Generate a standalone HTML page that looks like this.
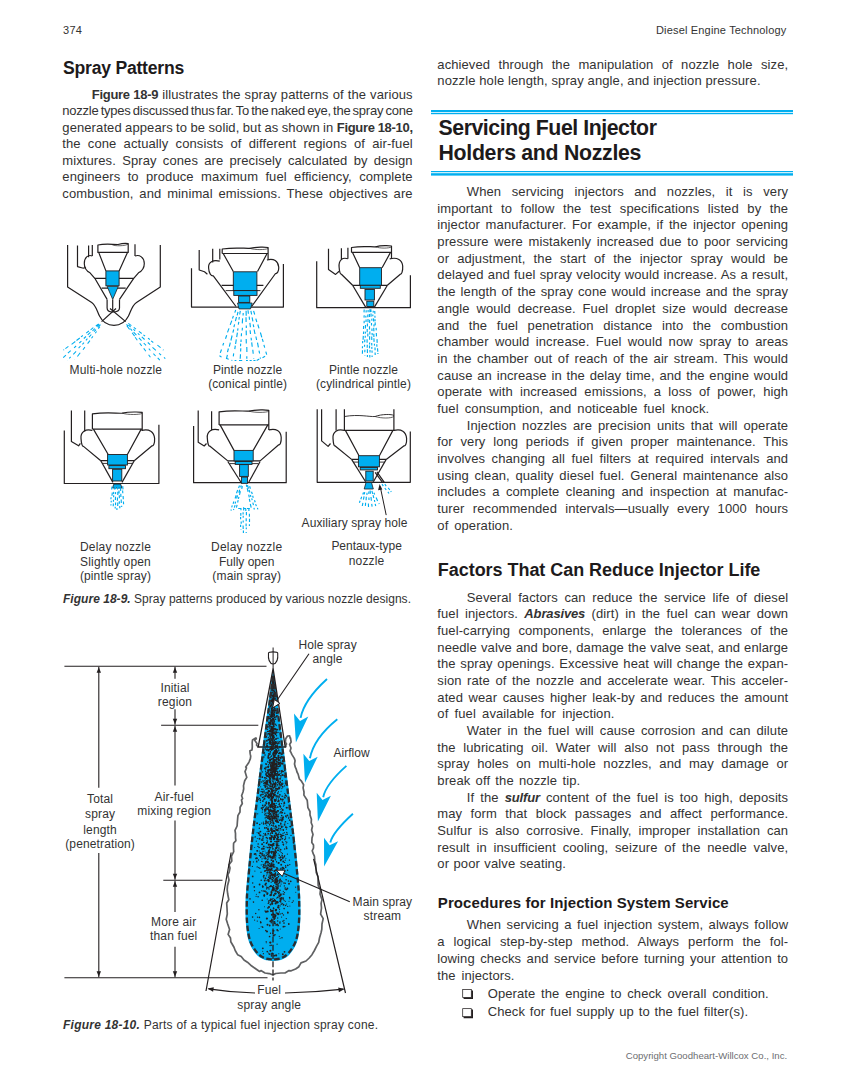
<!DOCTYPE html>
<html><head><meta charset="utf-8"><style>
html,body{margin:0;padding:0;background:#fff;}
body{width:849px;height:1087px;position:relative;overflow:hidden;}
.t{position:absolute;white-space:pre;}
svg{position:absolute;left:0;top:0;}
</style></head><body>
<svg width="849" height="1087" viewBox="0 0 849 1087">
<rect x="431" y="110" width="362" height="2.2" fill="#00aeef"/>
<rect x="431" y="113" width="362" height="1.2" fill="#00aeef"/>
<rect x="431" y="171" width="362" height="1.2" fill="#00aeef"/>
<rect x="431" y="173.2" width="362" height="2.4" fill="#00aeef"/>
<path d="M67.6,245 V287 L91.7,302.5 C96,305.5 97,311 99.5,316 C103,323 108,325.3 114,325.3 C120,325.3 125,323 128.5,316 C131,311 132,305.5 136.5,302.5 L160.3,287 V245" stroke="#231f20" stroke-width="1.2" fill="none" stroke-linejoin="round" /><path d="M77.5,245.6 V266.6 L81.5,267.8 C83.5,268.6 85,268 85.8,267" stroke="#231f20" stroke-width="1.2" fill="none" stroke-linejoin="round" /><path d="M88.6,245.6 V257.3 M92.3,245 V256 M135,244.3 V256" stroke="#231f20" stroke-width="1.2" fill="none" stroke-linejoin="round" /><path d="M97.9,252.4 V245 C105,243.5 112,244.5 118,244.5 C122,243.5 126,243.3 128.2,243.7 V252.4 Z" stroke="#231f20" stroke-width="1.2" fill="none" stroke-linejoin="round" /><path d="M112,244.5 C114,246.5 126,246 128.2,244" stroke="#231f20" stroke-width="0.7" fill="none" stroke-linejoin="round" /><path d="M92.3,256 C88,254.3 84.3,257.5 84.3,263.5 C84.3,268.5 87.5,271.5 90,272.8 L94.8,278.3 L107.1,299.4" stroke="#231f20" stroke-width="1.2" fill="none" stroke-linejoin="round" /><path d="M135,256 C139.5,254.3 144.3,257.5 144.3,263.5 C144.3,268.5 141,271.5 138.5,272.8 L133.7,278.3 L119.5,299.4" stroke="#231f20" stroke-width="1.2" fill="none" stroke-linejoin="round" /><path d="M98.7,252.4 L105.9,270.9 M127.5,252.4 L119.1,270.9" stroke="#231f20" stroke-width="1.2" fill="none" stroke-linejoin="round" /><path d="M94.8,278.3 H133.7 M101.6,288.2 H125.7" stroke="#231f20" stroke-width="1.2" fill="none" stroke-linejoin="round" /><rect x="105.9" y="270.9" width="13.2" height="14.9" rx="0" fill="#00aeef" stroke="#231f20" stroke-width="0.9"/><path d="M107.1,286.4 L118.3,286.4 L112.7,299.4 Z" fill="#00aeef" stroke="#231f20" stroke-width="0.8"/><path d="M107.1,299.4 V308 C107.1,311 109.5,312 112.7,312 C116,312 119.5,311 119.5,308 V299.4 M112.7,299.4 V311" stroke="#231f20" stroke-width="1.2" fill="none" stroke-linejoin="round" /><path d="M101.6,321.6 L116,308.5 M125.7,321.6 L110,308.5" stroke="#231f20" stroke-width="1.2" fill="none" stroke-linejoin="round" /><path d="M191.5,268.3 V307.1 H283.4 V264.1" stroke="#231f20" stroke-width="1.2" fill="none" stroke-linejoin="round" /><path d="M199.2,250 V270 L204.5,271.8 L207.4,274.2" stroke="#231f20" stroke-width="1.2" fill="none" stroke-linejoin="round" /><path d="M212.7,248.8 V262.4" stroke="#231f20" stroke-width="1.2" fill="none" stroke-linejoin="round" /><path d="M219.8,248.8 V259.4" stroke="#231f20" stroke-width="1.2" fill="none" stroke-linejoin="round" /><path d="M222.2,253.5 V249.0 C235.97,247.0 245.15,248.7 249.74,248.3 C256.625,246.7 266.1,247.0 268.1,247.5 V259.4 M222.2,253.5 H268.1" stroke="#231f20" stroke-width="1.2" fill="none" stroke-linejoin="round" /><path d="M249.74,248.3 C255.24800000000002,250.1 265.1,249.9 268.1,248.5" stroke="#231f20" stroke-width="0.7" fill="none" stroke-linejoin="round" /><path d="M223.2,253.5 L233.3,271.5 M267.1,253.5 L257.5,271.5" stroke="#231f20" stroke-width="1.2" fill="none" stroke-linejoin="round" /><path d="M219.8,261.2 C213.1,259.4 208.0,262.2 208.6,268 C208.9,273.5 211.2,276.2 213.3,275.9 L236,306.5" stroke="#231f20" stroke-width="1.2" fill="none" stroke-linejoin="round" /><path d="M266.9,260 C274.0,258.2 278.1,261.1 278.7,267 C279.0,271.6 276.9,273.8 275.5,273.5 L251.6,306.5" stroke="#231f20" stroke-width="1.2" fill="none" stroke-linejoin="round" /><path d="M221.6,285.3 H263.4" stroke="#231f20" stroke-width="1.2" fill="none" stroke-linejoin="round" /><path d="M225.7,290.6 H260.4" stroke="#231f20" stroke-width="0.9" fill="none" stroke-linejoin="round" /><rect x="233.3" y="271.8" width="23.6" height="18.8" rx="0" fill="#00aeef" stroke="#231f20" stroke-width="0.9"/><rect x="233.8" y="290.6" width="23.2" height="4.8" rx="0" fill="#00aeef" stroke="#231f20" stroke-width="0.9"/><rect x="238.6" y="296.0" width="11.2" height="6.4" rx="0" fill="#00aeef" stroke="#231f20" stroke-width="0.9"/><polygon points="237.5,303 252.2,303 250.5,308.9 239,308.9" fill="#00aeef" stroke="#231f20" stroke-width="0.8"/><path d="M316.7,261.2 V307.7 H410.4 V275.3" stroke="#231f20" stroke-width="1.2" fill="none" stroke-linejoin="round" /><path d="M328.5,248.8 V269.4 L335.6,274.4 L339.1,271.2" stroke="#231f20" stroke-width="1.2" fill="none" stroke-linejoin="round" /><path d="M341.4,248.2 V259.4" stroke="#231f20" stroke-width="1.2" fill="none" stroke-linejoin="round" /><path d="M347.9,247.7 V258.8" stroke="#231f20" stroke-width="1.2" fill="none" stroke-linejoin="round" /><path d="M351.5,252.4 V247.5 C363.5,245.5 371.5,247.2 375.5,246.8 C381.5,245.2 389.5,245.5 391.5,246 V258.8 M351.5,252.4 H391.5" stroke="#231f20" stroke-width="1.2" fill="none" stroke-linejoin="round" /><path d="M375.5,246.8 C380.3,248.6 388.5,248.4 391.5,247" stroke="#231f20" stroke-width="0.7" fill="none" stroke-linejoin="round" /><path d="M352.5,252.4 L359.7,267.7 M390.5,252.4 L382.1,267.7" stroke="#231f20" stroke-width="1.2" fill="none" stroke-linejoin="round" /><path d="M347.9,258.8 C342.6,257.0 338.5,260.0 339.1,267 C339.4,272.0 340.4,274.5 341.4,274.2 L352.6,285.3" stroke="#231f20" stroke-width="1.2" fill="none" stroke-linejoin="round" /><path d="M389.7,258.8 C397.5,257.0 402.1,259.9 402.7,266 C403.0,271.7 401.4,274.5 400.3,274.2 L387.4,285.3" stroke="#231f20" stroke-width="1.2" fill="none" stroke-linejoin="round" /><path d="M352.6,285.3 H387.4" stroke="#231f20" stroke-width="1.2" fill="none" stroke-linejoin="round" /><path d="M352.6,285.3 L365.6,307.1" stroke="#231f20" stroke-width="1.2" fill="none" stroke-linejoin="round" /><path d="M387.4,285.3 L374.4,307.1" stroke="#231f20" stroke-width="1.2" fill="none" stroke-linejoin="round" /><rect x="359.7" y="267.7" width="21.8" height="17.6" rx="0" fill="#00aeef" stroke="#231f20" stroke-width="0.9"/><rect x="360.3" y="285.3" width="20.0" height="3.0" rx="0" fill="#00aeef" stroke="#231f20" stroke-width="0.9"/><rect x="365.0" y="289.5" width="9.4" height="10.5" rx="0" fill="#00aeef" stroke="#231f20" stroke-width="0.9"/><rect x="366.8" y="301.2" width="7.0" height="5.3" rx="0" fill="#00aeef" stroke="#231f20" stroke-width="0.9"/><path d="M64.3,430.4 V483.5 H158.9 V424.8" stroke="#231f20" stroke-width="1.2" fill="none" stroke-linejoin="round" /><path d="M71.4,410.6 V441.5 L78.6,445.8 L80.4,443.3" stroke="#231f20" stroke-width="1.2" fill="none" stroke-linejoin="round" /><path d="M84.7,410.6 V431.6" stroke="#231f20" stroke-width="1.2" fill="none" stroke-linejoin="round" /><path d="M92.4,429.1 V413.9 C107.34,411.9 117.3,413.59999999999997 122.28,413.2 C129.75,411.59999999999997 140.2,411.9 142.2,412.4 V431 M92.4,429.1 H142.2" stroke="#231f20" stroke-width="1.2" fill="none" stroke-linejoin="round" /><path d="M122.28,413.2 C128.256,415.0 139.2,414.79999999999995 142.2,413.4" stroke="#231f20" stroke-width="0.7" fill="none" stroke-linejoin="round" /><path d="M93.4,429.1 L108.2,454.5 M141.2,429.1 L127.4,454.5" stroke="#231f20" stroke-width="1.2" fill="none" stroke-linejoin="round" /><path d="M92.4,430.4 C85.6,428.6 80.4,431.6 81,438.4 C81.3,444.0 82.4,446.7 83.5,446.4 L100.8,460.7" stroke="#231f20" stroke-width="1.2" fill="none" stroke-linejoin="round" /><path d="M141.6,430.4 C149.4,428.6 154.0,431.6 154.6,438.4 C154.9,443.6 153.2,446.1 152.1,445.8 L134.2,460.7" stroke="#231f20" stroke-width="1.2" fill="none" stroke-linejoin="round" /><path d="M100.8,460.7 H134.2" stroke="#231f20" stroke-width="1.2" fill="none" stroke-linejoin="round" /><path d="M102.3,463.4 H132.7" stroke="#231f20" stroke-width="0.9" fill="none" stroke-linejoin="round" /><path d="M100.8,460.7 L112.9,482.4" stroke="#231f20" stroke-width="1.2" fill="none" stroke-linejoin="round" /><path d="M134.2,460.7 L122,482.4" stroke="#231f20" stroke-width="1.2" fill="none" stroke-linejoin="round" /><rect x="107.6" y="454.5" width="19.8" height="10.5" rx="0" fill="#00aeef" stroke="#231f20" stroke-width="0.9"/><rect x="108.9" y="465.6" width="16.6" height="3.1" rx="0" fill="#00aeef" stroke="#231f20" stroke-width="0.9"/><rect x="112.6" y="469.3" width="9.2" height="11.7" rx="0" fill="#00aeef" stroke="#231f20" stroke-width="0.9"/><polygon points="113.8,484.1 120.6,484.1 122,488 112.5,488" fill="#00aeef" stroke="#231f20" stroke-width="0.8"/><path d="M193.6,426.1 V482.7 H286.2 V431.7" stroke="#231f20" stroke-width="1.2" fill="none" stroke-linejoin="round" /><path d="M198.2,410.6 V442.3 L204.2,446 L206.5,443.5" stroke="#231f20" stroke-width="1.2" fill="none" stroke-linejoin="round" /><path d="M211.6,411.2 V429.9" stroke="#231f20" stroke-width="1.2" fill="none" stroke-linejoin="round" /><path d="M219.1,424.9 V411.8 C234.01,409.8 243.95,411.5 248.92000000000002,411.1 C256.375,409.5 266.8,409.8 268.8,410.3 V429.9 M219.1,424.9 H268.8" stroke="#231f20" stroke-width="1.2" fill="none" stroke-linejoin="round" /><path d="M248.92000000000002,411.1 C254.88400000000001,412.90000000000003 265.8,412.7 268.8,411.3" stroke="#231f20" stroke-width="0.7" fill="none" stroke-linejoin="round" /><path d="M220.1,424.9 L234,450.4 M267.8,424.9 L253.2,450.4" stroke="#231f20" stroke-width="1.2" fill="none" stroke-linejoin="round" /><path d="M219.1,429.9 C212.0,428.1 206.7,431.1 207.3,437.9 C207.6,443.6 208.6,446.3 209.7,446 L227.8,460.9" stroke="#231f20" stroke-width="1.2" fill="none" stroke-linejoin="round" /><path d="M268.8,429.9 C276.2,428.1 280.6,431.0 281.2,437.3 C281.5,442.6 279.8,445.1 278.7,444.8 L260.1,460.9" stroke="#231f20" stroke-width="1.2" fill="none" stroke-linejoin="round" /><path d="M227.8,460.9 H260.1" stroke="#231f20" stroke-width="1.2" fill="none" stroke-linejoin="round" /><path d="M229.4,463.6 H258.5" stroke="#231f20" stroke-width="0.9" fill="none" stroke-linejoin="round" /><path d="M227.8,461.5 L240.8,482" stroke="#231f20" stroke-width="1.2" fill="none" stroke-linejoin="round" /><path d="M260.1,461.5 L248.9,482" stroke="#231f20" stroke-width="1.2" fill="none" stroke-linejoin="round" /><rect x="234.0" y="450.4" width="19.2" height="10.5" rx="0" fill="#00aeef" stroke="#231f20" stroke-width="0.9"/><rect x="235.2" y="461.5" width="16.8" height="2.9" rx="0" fill="#00aeef" stroke="#231f20" stroke-width="0.9"/><rect x="239.6" y="464.6" width="8.7" height="11.8" rx="0" fill="#00aeef" stroke="#231f20" stroke-width="0.9"/><rect x="241.4" y="477.1" width="6.2" height="6.2" rx="0" fill="#00aeef" stroke="#231f20" stroke-width="0.9"/><path d="M317.2,409.3 V482.3 H410.3 V431.6" stroke="#231f20" stroke-width="1.2" fill="none" stroke-linejoin="round" /><path d="M321.6,409.3 V440.9 L328.1,446.4 L330.5,443.5" stroke="#231f20" stroke-width="1.2" fill="none" stroke-linejoin="round" /><path d="M336.1,409.3 V430.4" stroke="#231f20" stroke-width="1.2" fill="none" stroke-linejoin="round" /><path d="M344.4,409.3 V430.4 H393.9 M393.9,409.3 V431" stroke="#231f20" stroke-width="1.2" fill="none" stroke-linejoin="round" /><path d="M344.4,416.5 C359.25,414.0 369.15,417.0 375.09,416.5 C381.525,414.0 391.9,414.0 393.9,415.5" stroke="#231f20" stroke-width="0.9" fill="none" stroke-linejoin="round" /><path d="M375.09,416.5 C381.525,418.5 390.9,418.5 393.9,416.5" stroke="#231f20" stroke-width="0.7" fill="none" stroke-linejoin="round" /><path d="M345.4,430.4 L359,455.7 M392.9,430.4 L379.4,455.7" stroke="#231f20" stroke-width="1.2" fill="none" stroke-linejoin="round" /><path d="M344.4,430.4 C337.6,428.6 332.4,431.6 333,438.4 C333.3,443.6 334.0,446.1 334.9,445.8 L351.6,459.4" stroke="#231f20" stroke-width="1.2" fill="none" stroke-linejoin="round" /><path d="M393.9,430.4 C401.5,428.6 406.0,431.6 406.6,438.4 C406.9,443.6 405.2,446.1 404.1,445.8 L386.2,459.4" stroke="#231f20" stroke-width="1.2" fill="none" stroke-linejoin="round" /><path d="M351.6,459.4 H386.2" stroke="#231f20" stroke-width="1.2" fill="none" stroke-linejoin="round" /><path d="M353.2,462.1 H384.6" stroke="#231f20" stroke-width="0.9" fill="none" stroke-linejoin="round" /><path d="M351.6,459.4 L365.6,481.7" stroke="#231f20" stroke-width="1.2" fill="none" stroke-linejoin="round" /><path d="M386.2,459.4 L373.4,481.7" stroke="#231f20" stroke-width="1.2" fill="none" stroke-linejoin="round" /><path d="M375.1,472.4 L382.5,482.3" stroke="#231f20" stroke-width="1.2" fill="none" stroke-linejoin="round" /><path d="M376.9,471.8 L384.3,482.3" stroke="#231f20" stroke-width="1.2" fill="none" stroke-linejoin="round" /><rect x="358.4" y="455.7" width="21.0" height="11.1" rx="0" fill="#00aeef" stroke="#231f20" stroke-width="0.9"/><rect x="360.2" y="467.5" width="17.3" height="2.4" rx="0" fill="#00aeef" stroke="#231f20" stroke-width="0.9"/><rect x="365.8" y="471.2" width="7.4" height="9.8" rx="0" fill="#00aeef" stroke="#231f20" stroke-width="0.9"/><polygon points="366,482.5 371.5,482.5 373.3,489 364.2,489" fill="#00aeef" stroke="#231f20" stroke-width="0.8"/><path d="M98.7,323.8L95.8,326.0M93.3,327.7L90.6,329.8M88.9,331.0L86.2,333.1M82.9,335.5L81.0,336.9M79.8,338.0L76.5,340.5M75.3,341.5L71.6,344.3M68.4,346.4L65.4,348.6M64.1,349.6L63.4,350.1M99.3,324.4L96.8,326.7M94.9,328.6L92.5,330.8M90.4,332.3L87.7,334.9M86.0,336.5L83.8,338.5M81.4,341.1L79.3,343.0M76.1,346.0L74.1,347.9M70.7,350.6L67.9,353.2M65.9,355.1L63.2,357.7M100.5,324.6L97.9,327.5M96.0,329.7L94.1,331.7M91.3,334.5L89.0,337.1M87.4,338.7L85.9,340.3M84.0,342.7L82.4,344.4M80.5,346.0L78.6,348.1M76.1,351.4L73.3,354.3M70.7,356.8L69.2,358.4M67.6,360.6L67.5,360.7M99.9,326.7L98.3,328.8M96.6,331.5L95.2,333.3M92.9,336.4L91.5,338.2M89.9,340.6L87.6,343.6M84.9,347.1L83.0,349.7M80.2,352.8L77.4,356.5M74.9,359.9L74.8,360.0" stroke="#00aeef" stroke-width="1.05" fill="none"/><path d="M128.3,323.3L131.4,325.7M133.8,327.4L136.0,329.1M138.9,331.4L141.7,333.5M143.4,334.8L145.1,336.2M148.0,338.1L149.8,339.5M151.1,340.9L153.3,342.5M157.4,345.2L160.6,347.7M162.9,349.7L163.5,350.1M128.6,325.2L130.6,327.0M133.4,329.2L135.1,330.8M137.8,333.4L139.5,334.9M141.8,336.9L144.6,339.5M147.8,342.5L150.2,344.7M152.5,347.3L155.9,350.4M159.1,353.3L161.1,355.2M164.0,357.4L165.3,358.6M126.5,324.3L128.2,326.1M130.4,328.7L132.1,330.6M133.6,332.2L136.4,335.2M138.9,337.9L141.5,340.7M143.7,343.0L146.0,345.4M148.8,348.7L150.4,350.5M153.4,353.7L155.6,356.0M157.7,357.8L159.8,360.1M126.8,325.7L129.6,329.4M132.1,332.8L134.6,336.1M135.1,337.3L137.3,340.3M139.7,343.3L141.7,345.9M143.7,348.4L145.9,351.2M148.6,354.8L150.4,357.2" stroke="#00aeef" stroke-width="1.05" fill="none"/><path d="M235.7,310.0L234.8,312.6M233.4,315.9L232.5,318.5M231.8,320.6L230.2,324.9M229.0,328.4L227.5,332.4M226.7,335.3L225.5,338.7M223.7,343.0L222.8,345.5M221.5,349.5L220.3,352.9M220.0,355.2L219.9,355.7M238.0,311.8L237.2,315.3M236.5,317.0L235.4,321.2M234.6,324.4L233.9,327.2M233.7,329.5L232.9,332.7M232.1,335.5L230.9,340.5M230.3,342.6L229.3,346.6M228.4,348.5L227.5,352.2M227.4,354.8L226.5,358.6M240.3,310.8L239.7,314.5M239.3,317.0L238.9,319.6M238.8,321.9L238.3,324.6M238.0,328.3L237.6,330.7M237.4,332.6L236.7,337.2M236.3,339.3L235.6,344.0M235.3,345.7L234.8,349.2M233.7,353.4L233.3,356.3M243.2,312.9L243.1,315.5M242.6,318.4L242.3,323.4M242.4,327.7L242.2,330.5M241.5,333.3L241.3,336.2M241.1,339.6L241.0,342.0M240.7,343.6L240.5,346.2M240.8,348.3L240.6,351.5M240.5,354.2L240.2,358.7M246.1,310.7L246.2,315.7M246.0,317.3L246.1,322.0M246.3,325.6L246.3,328.0M246.2,330.6L246.3,335.3M246.2,339.1L246.3,343.5M246.8,347.0L246.9,352.1M246.8,356.3L246.8,358.7M248.0,310.2L248.4,313.8M249.2,316.6L249.5,319.7M249.9,322.9L250.4,327.3M250.1,330.3L250.5,334.0M251.1,337.8L251.4,340.4M251.7,342.4L252.2,346.8M252.8,349.8L253.2,353.7M253.7,358.1L253.8,358.7M250.9,310.8L251.6,314.5M252.1,317.4L252.9,321.3M253.2,324.3L253.8,327.2M254.1,329.5L255.0,334.0M255.9,336.5L256.6,340.0M257.5,342.7L258.4,347.4M259.0,350.6L259.6,353.5M260.3,357.5L260.5,358.7M253.6,310.8L254.7,314.5M255.8,318.7L256.8,322.0M257.8,324.5L259.0,328.3M260.4,332.5L261.8,337.3M262.3,338.9L263.2,341.8M263.9,344.9L264.7,347.6M265.8,351.7L266.7,354.6" stroke="#00aeef" stroke-width="1.15" fill="none" stroke-linecap="butt"/><path d="M219.6,356.3L221.6,357.0M226.0,358.3L228.7,359.3M231.5,360.2L232.3,360.5M234.6,360.5L236.4,360.5M239.0,360.5L242.2,360.5M246.0,360.5L247.9,360.5M249.6,360.5L251.7,360.5M253.4,360.5L255.5,360.5M256.7,360.4L259.3,359.0M262.5,357.7L265.1,356.2" stroke="#00aeef" stroke-width="1.1" fill="none"/><path d="M364.2,309.5L364.0,312.4M364.2,315.3L364.0,317.6M364.2,320.7L364.1,323.3M363.6,326.0L363.5,329.0M363.6,331.4L363.5,333.9M363.3,335.9L363.1,339.8M362.7,340.9L362.6,343.3M362.5,346.2L362.4,348.3M362.5,350.2L362.4,353.7M366.2,310.3L366.1,312.5M365.9,315.7L365.8,317.6M366.1,319.4L366.0,321.9M365.5,325.1L365.4,328.6M365.4,331.6L365.3,333.6M365.3,335.7L365.2,337.7M364.8,339.6L364.7,342.2M364.6,344.8L364.5,346.8M364.9,349.8L364.8,352.3M364.9,355.0L364.9,355.5M368.1,309.9L368.1,312.3M367.8,314.4L367.8,317.3M368.0,319.1L368.0,322.3M367.4,323.5L367.4,326.5M367.2,329.1L367.2,332.2M367.8,333.5L367.8,336.4M367.1,339.3L367.1,342.8M367.3,344.7L367.2,347.7M367.4,349.3L367.4,353.0M367.4,355.0L367.4,357.0M369.9,309.2L369.9,312.2M369.4,314.1L369.5,317.0M369.6,319.7L369.7,323.0M369.5,326.2L369.5,329.5M369.8,331.4L369.8,334.6M369.6,336.2L369.6,339.7M369.6,342.5L369.6,344.4M369.5,345.6L369.5,348.3M370.0,350.1L370.0,352.4M369.8,354.9L369.8,357.4M370.9,309.3L371.0,311.9M371.0,313.5L371.1,316.7M371.8,318.6L371.9,320.8M371.5,323.0L371.5,325.5M371.9,328.4L372.0,331.0M372.1,332.9L372.2,335.2M371.7,336.4L371.8,340.1M371.7,342.9L371.8,345.6M371.8,346.9L371.9,348.9M372.0,350.4L372.1,352.7M372.1,355.4L372.1,357.0M373.2,310.7L373.3,312.6M372.8,314.4L372.8,316.2M373.5,318.4L373.7,321.5M373.9,324.4L374.0,326.5M373.7,327.8L373.9,331.3M373.8,333.7L373.9,337.0M373.9,338.3L374.1,341.9M374.4,343.7L374.5,345.6M375.0,347.4L375.1,350.2M375.1,352.4L375.2,355.1M374.7,311.0L374.9,313.8M374.9,315.7L375.0,317.7M375.0,319.2L375.1,321.3M375.1,322.4L375.3,325.4M376.1,327.9L376.3,330.4M376.3,333.0L376.5,336.4M377.0,339.1L377.2,342.9M376.8,344.3L376.9,346.8M377.5,348.3L377.8,351.7M377.9,353.0L377.9,354.0" stroke="#00aeef" stroke-width="1.15" fill="none" stroke-linecap="butt"/><path d="M112.0,486.6L111.7,489.5M112.3,492.5L112.0,495.8M111.1,497.3L110.9,499.3M111.3,500.7L111.1,502.4M111.0,504.2L110.9,505.5M114.4,487.6L114.3,489.5M113.7,491.9L113.6,494.1M113.7,495.2L113.6,497.2M113.5,499.7L113.4,501.7M113.4,503.5L113.2,506.2M115.5,486.4L115.4,489.3M115.6,492.1L115.5,494.1M115.5,496.7L115.4,500.1M115.6,502.5L115.5,505.2M115.2,506.7L115.2,508.5M117.5,486.8L117.5,489.6M117.8,491.8L117.8,495.1M117.5,497.4L117.4,500.7M117.8,502.6L117.7,505.9M117.0,508.1L116.9,510.0M118.9,486.8L119.0,488.9M119.0,490.4L119.1,493.5M119.3,495.3L119.4,498.3M119.3,501.2L119.4,503.8M119.8,506.1L119.8,508.2M120.5,487.4L120.7,490.9M120.8,493.7L120.9,497.0M121.2,499.6L121.3,502.9M121.6,505.8L121.7,507.0M122.7,486.1L123.0,489.4M122.6,490.5L122.8,493.2M123.1,496.0L123.3,499.3M123.4,501.5L123.6,504.2" stroke="#00aeef" stroke-width="1.15" fill="none" stroke-linecap="butt"/><path d="M239.5,485.5L238.6,488.1M237.7,490.0L236.5,493.3M236.2,495.3L235.1,498.5M233.9,501.5L233.1,503.7M232.3,505.4L231.7,507.4M231.3,509.5L231.0,510.6M241.2,485.3L240.6,487.4M239.7,489.8L238.8,492.6M237.6,495.4L236.6,498.5M235.7,501.7L235.1,503.7M235.1,505.1L234.3,507.6M233.8,509.0L233.5,510.0M242.4,486.1L241.7,488.9M240.4,491.1L239.5,494.8M238.9,496.9L238.4,498.9M238.2,500.2L237.6,502.5M237.1,504.8L236.4,507.6" stroke="#00aeef" stroke-width="1.15" fill="none" stroke-linecap="butt"/><path d="M246.3,484.7L246.8,486.8M247.2,488.2L248.1,491.9M248.7,494.6L249.3,497.3M249.3,498.9L250.0,501.8M250.3,504.0L251.2,507.7M247.5,485.2L248.5,488.6M249.1,489.8L249.9,492.5M250.4,495.0L250.9,496.9M251.7,498.3L252.2,500.1M252.8,502.7L253.5,505.2M253.9,507.9L254.4,509.5M249.6,486.3L250.4,488.7M251.5,491.7L252.3,494.0M252.6,495.7L253.3,497.7M254.5,500.3L255.2,502.3M255.6,504.1L256.4,506.1M257.4,507.9L257.9,509.4" stroke="#00aeef" stroke-width="1.15" fill="none" stroke-linecap="butt"/><path d="M240.9,508.2L241.0,510.2M240.8,513.1L240.8,515.7M240.6,517.1L240.6,519.2M241.2,521.6L241.2,523.7M240.6,524.8L240.6,526.9M241.0,529.4L241.0,530.0M243.6,507.3L243.7,510.5M243.1,512.3L243.1,514.5M243.2,515.7L243.2,517.8M243.2,520.5L243.2,522.6M243.1,525.4L243.2,528.9M243.4,530.5L243.4,533.0M245.8,508.8L245.8,510.9M246.4,512.1L246.4,515.2M246.2,518.2L246.2,521.2M246.1,523.6L246.1,526.2M246.3,527.5L246.3,529.3M246.2,531.9L246.2,533.0M248.9,508.0L248.9,510.9M249.4,513.7L249.4,516.8M249.5,518.8L249.5,522.1M249.4,524.3L249.4,526.1" stroke="#00aeef" stroke-width="1.15" fill="none" stroke-linecap="butt"/><path d="M238.2,508.5L241.2,508.5M243.9,508.5L246.1,508.5M247.0,508.5L249.7,508.5" stroke="#00aeef" stroke-width="1.1" fill="none"/><path d="M363.5,492.3L362.8,494.5M361.7,496.7L360.8,499.2M360.1,500.7L359.4,502.8M364.7,492.2L364.3,494.3M364.1,496.3L363.4,499.7M362.9,502.9L362.3,506.0M367.0,492.7L366.9,494.9M366.3,496.8L366.1,500.2M365.6,502.8L365.4,505.9M368.8,491.5L368.9,494.1M368.9,497.5L369.0,499.9M368.4,503.4L368.5,507.0M370.1,490.5L370.5,493.7M371.0,497.0L371.4,500.8M371.7,503.8L372.1,506.7M371.9,490.8L372.7,493.8M373.1,495.1L373.8,498.0M374.4,500.0L374.8,501.8M375.2,503.9L375.7,506.0M373.9,492.7L374.7,494.5M376.1,497.5L377.6,500.9M378.9,503.3L379.2,504.0" stroke="#00aeef" stroke-width="1.15" fill="none" stroke-linecap="butt"/><path d="M382.0,484.1L383.3,486.1M384.8,488.0L386.2,490.0M387.9,491.9L389.0,493.5M384.8,484.1L386.2,486.1M388.2,487.9L389.8,490.0M390.7,491.2L391.3,492.0" stroke="#00aeef" stroke-width="1.1" fill="none"/><path d="M386.2,515.1 L380.2,486.5" stroke="#231f20" stroke-width="1.0" fill="none" stroke-linejoin="round" /><path d="M379.6,484 L378.1,490.2 L382.3,489.4 Z" fill="#231f20"/>
<rect x="462.7" y="989.55" width="8.6" height="8.0" fill="none" stroke="#231f20" stroke-width="0.75"/><path d="M471.4,990.40 H473.0 V999.10 H463.6 V997.60 H471.4 Z" fill="#231f20"/><rect x="462.7" y="1008.65" width="8.6" height="8.0" fill="none" stroke="#231f20" stroke-width="0.75"/><path d="M471.4,1009.50 H473.0 V1018.20 H463.6 V1016.70 H471.4 Z" fill="#231f20"/>
<path d="M258.2,747 L258.0,746.9 L258.0,746.7 L256.5,745 L257.1,743.7 L254.7,740.3 L256,738 L256.3,739.0 L254.9,738.4 L252.5,740 L252.2,742.7 L252.3,746.8 L252,750 L249.9,750.8 L250.2,753.9 L250.3,754.4 L250.7,756.1 L250.4,758.6 L249,762 L248.5,763.1 L245.7,766.9 L246.5,768 L245.0,771.6 L246.8,777.4 L244.7,780.8 L243.5,785.6 L243.7,788.7 L243,792 L241.6,795.7 L242.6,798.5 L241.5,800 L242.3,803.5 L240.1,807.2 L240,812 L237.9,815.6 L237.4,821.6 L237.1,826 L235.0,830.4 L235.5,833.5 L235.5,838 L235.9,840.6 L233.6,843.3 L233.5,846 L233.5,848.3 L233.7,851.7 L231.5,856.2 L231.8,861.0 L229.0,864.8 L230,868 L229.2,872.2 L227.8,874.9 L229,880 L227.5,885.8 L227.2,889.9 L227.7,894 L228.8,899.7 L226.7,903.0 L227,908 L227.3,914.0 L226.2,919.3 L227.7,924 L229.6,929.5 L228.1,934.4 L230.5,938 L230.8,941.8 L234.0,947.3 L235.2,950.5 L237.6,954.7 L241.2,956.4 L244,960 L247.4,962.2 L250.7,965.2 L256,969 L259.6,971.5 L260.9,970.6 L265,973 L269.2,973.7 L270.0,973.7 L273,975 M285.2,747 L285.9,746.8 L285.9,744.8 L286.5,744 L285.4,742.3 L285.7,738.7 L287.5,736 L289.6,735.8 L290.2,738.4 L290.5,738 L291.1,742.0 L289.6,744.5 L291,748 L290.1,751.0 L290.9,752.2 L291.8,754.4 L294.3,758.4 L295.1,760.7 L294.5,764 L295.3,767.2 L296.1,768.8 L297,772 L298.1,774.1 L299.4,779.0 L301.2,780.8 L303.6,784.8 L303.1,787.9 L304,792 L303.9,795.1 L307.2,800.2 L307.5,803 L307.9,807.7 L310.0,811.5 L310,815 L311.4,819.3 L311.2,822.8 L312.5,826 L311.6,830.0 L313.0,834.5 L312,838 L311.8,842.4 L313.5,844.9 L313.5,848 L312.2,850.8 L313.3,853.9 L314.4,856.2 L314.8,860.9 L315.9,864.8 L316,868 L316.2,872.3 L318.1,876.8 L318,880 L318.2,885.5 L320.5,889.8 L320,894 L322.0,899.8 L321.1,903.4 L321.5,908 L320.6,914.1 L323.2,918.6 L322,924 L321.8,929.2 L321.1,932.5 L319.5,938 L318.7,942.4 L316.6,946.1 L314.4,950.5 L312.0,954.7 L309.2,958.0 L306,961 L301.0,962.9 L298.9,966.7 L295.6,969 L291.2,970.8 L289.0,970.6 L285,973 L280.9,973.0 L275.6,973.5 L273,975" fill="none" stroke="#5f6062" stroke-width="1.7" stroke-linejoin="round"/><path d="M273.1,668.7 L263.4,740  C262.4,748.0 259.4,771.9 257.4,787.9 C255.4,803.9 253.2,819.8 251.4,835.7 C249.6,851.7 247.7,872.1 246.7,883.6 C245.7,895.1 245.6,898.1 245.5,905.0 C245.4,911.9 245.4,918.8 246.0,925.0 C246.6,931.2 247.3,937.2 249.0,942.0 C250.7,946.8 253.5,951.1 256.0,954.0 C258.5,956.9 261.2,958.3 264.0,959.5 C266.8,960.7 271.5,960.8 273.0,961.0 C274.5,960.8 279.2,960.7 282.0,959.5 C284.8,958.3 287.5,956.9 290.0,954.0 C292.5,951.1 295.3,946.8 297.0,942.0 C298.7,937.2 299.4,931.2 300.0,925.0 C300.6,918.8 300.6,911.9 300.5,905.0 C300.4,898.1 300.3,895.1 299.3,883.6 C298.3,872.1 296.3,851.7 294.5,835.7 C292.7,819.8 290.5,803.9 288.5,787.9 C286.5,771.9 283.6,748.0 282.6,740.0 L273.1,668.7 Z" fill="#00aeef"/><path d="M273.1,668.7 L268.5,700 L277.7,700 Z" fill="#231f20" opacity="0.3"/><g fill="#231f20"><circle cx="273.1" cy="763.3" r="0.89"/><circle cx="270.9" cy="775.3" r="0.88"/><circle cx="271.4" cy="690.1" r="0.56"/><circle cx="278.6" cy="753.4" r="0.55"/><circle cx="268.2" cy="854.0" r="0.63"/><circle cx="270.7" cy="793.1" r="0.92"/><circle cx="275.0" cy="800.5" r="0.73"/><circle cx="260.5" cy="835.4" r="0.89"/><circle cx="277.3" cy="880.1" r="0.83"/><circle cx="273.8" cy="888.1" r="0.87"/><circle cx="285.5" cy="837.0" r="0.71"/><circle cx="256.7" cy="861.3" r="0.82"/><circle cx="264.5" cy="906.7" r="0.51"/><circle cx="279.4" cy="803.0" r="0.55"/><circle cx="269.4" cy="707.2" r="0.54"/><circle cx="280.9" cy="799.4" r="0.90"/><circle cx="268.4" cy="750.2" r="0.93"/><circle cx="276.5" cy="713.5" r="0.60"/><circle cx="270.2" cy="737.2" r="0.50"/><circle cx="268.6" cy="790.7" r="0.91"/><circle cx="273.0" cy="818.5" r="1.09"/><circle cx="272.0" cy="899.8" r="0.82"/><circle cx="273.6" cy="687.9" r="0.79"/><circle cx="273.9" cy="685.1" r="0.57"/><circle cx="272.3" cy="846.9" r="0.80"/><circle cx="280.2" cy="809.3" r="0.55"/><circle cx="275.2" cy="768.7" r="0.61"/><circle cx="268.1" cy="870.5" r="0.80"/><circle cx="279.9" cy="764.9" r="0.88"/><circle cx="252.7" cy="883.1" r="0.73"/><circle cx="277.7" cy="772.4" r="0.62"/><circle cx="273.6" cy="775.0" r="0.72"/><circle cx="267.0" cy="726.7" r="0.88"/><circle cx="261.5" cy="808.1" r="0.86"/><circle cx="280.2" cy="886.0" r="0.65"/><circle cx="281.7" cy="784.0" r="0.93"/><circle cx="276.3" cy="878.7" r="1.10"/><circle cx="277.6" cy="902.3" r="1.05"/><circle cx="274.0" cy="770.9" r="1.13"/><circle cx="272.7" cy="857.1" r="1.11"/><circle cx="273.5" cy="907.9" r="0.73"/><circle cx="281.2" cy="838.9" r="0.69"/><circle cx="262.5" cy="771.9" r="0.69"/><circle cx="265.4" cy="823.2" r="0.51"/><circle cx="284.1" cy="796.8" r="0.58"/><circle cx="273.0" cy="806.4" r="0.91"/><circle cx="265.5" cy="763.9" r="0.55"/><circle cx="269.1" cy="831.4" r="0.62"/><circle cx="257.9" cy="846.4" r="0.70"/><circle cx="273.5" cy="823.6" r="1.12"/><circle cx="279.4" cy="911.9" r="0.53"/><circle cx="276.0" cy="739.3" r="0.80"/><circle cx="285.3" cy="860.2" r="0.60"/><circle cx="258.9" cy="909.7" r="0.69"/><circle cx="276.6" cy="818.5" r="1.00"/><circle cx="277.4" cy="796.9" r="0.65"/><circle cx="275.3" cy="700.2" r="0.52"/><circle cx="280.4" cy="894.4" r="0.91"/><circle cx="280.1" cy="905.9" r="0.57"/><circle cx="283.0" cy="871.7" r="0.69"/><circle cx="275.8" cy="800.7" r="0.75"/><circle cx="273.6" cy="738.7" r="0.71"/><circle cx="275.9" cy="759.9" r="1.02"/><circle cx="276.4" cy="753.5" r="0.61"/><circle cx="276.8" cy="742.1" r="0.83"/><circle cx="274.0" cy="794.5" r="1.06"/><circle cx="264.9" cy="783.2" r="0.65"/><circle cx="275.0" cy="770.1" r="1.01"/><circle cx="274.8" cy="743.6" r="0.65"/><circle cx="271.7" cy="863.1" r="0.85"/><circle cx="274.5" cy="715.4" r="0.62"/><circle cx="281.8" cy="827.6" r="0.66"/><circle cx="271.3" cy="806.7" r="0.71"/><circle cx="273.6" cy="815.4" r="0.82"/><circle cx="273.6" cy="682.0" r="0.77"/><circle cx="266.4" cy="737.0" r="0.80"/><circle cx="269.9" cy="782.2" r="1.14"/><circle cx="282.1" cy="855.2" r="0.78"/><circle cx="265.7" cy="736.2" r="0.56"/><circle cx="276.7" cy="773.9" r="0.78"/><circle cx="264.8" cy="810.9" r="0.86"/><circle cx="262.7" cy="885.5" r="0.53"/><circle cx="271.2" cy="882.2" r="0.64"/><circle cx="267.8" cy="780.2" r="0.78"/><circle cx="256.1" cy="855.1" r="0.57"/><circle cx="276.3" cy="757.7" r="0.75"/><circle cx="271.7" cy="864.6" r="0.88"/><circle cx="283.8" cy="803.8" r="0.59"/><circle cx="282.0" cy="799.4" r="0.59"/><circle cx="269.5" cy="872.6" r="1.09"/><circle cx="282.2" cy="810.0" r="0.70"/><circle cx="274.7" cy="757.0" r="0.79"/><circle cx="283.0" cy="761.0" r="0.88"/><circle cx="274.6" cy="753.5" r="0.82"/><circle cx="272.6" cy="773.9" r="0.66"/><circle cx="275.8" cy="910.4" r="1.11"/><circle cx="270.7" cy="741.8" r="0.67"/><circle cx="274.1" cy="828.2" r="0.63"/><circle cx="273.7" cy="880.9" r="0.76"/><circle cx="265.7" cy="769.0" r="0.83"/><circle cx="262.0" cy="858.9" r="0.58"/><circle cx="271.3" cy="716.6" r="1.10"/><circle cx="258.5" cy="799.6" r="0.59"/><circle cx="273.3" cy="696.2" r="1.09"/><circle cx="284.4" cy="885.9" r="0.69"/><circle cx="272.9" cy="821.0" r="0.75"/><circle cx="276.3" cy="815.0" r="1.07"/><circle cx="272.3" cy="732.2" r="0.85"/><circle cx="280.0" cy="921.4" r="0.51"/><circle cx="280.1" cy="806.3" r="0.92"/><circle cx="273.2" cy="701.4" r="0.89"/><circle cx="272.3" cy="890.3" r="1.03"/><circle cx="270.6" cy="855.9" r="0.67"/><circle cx="272.8" cy="742.5" r="0.64"/><circle cx="270.6" cy="821.0" r="0.81"/><circle cx="275.6" cy="734.4" r="0.71"/><circle cx="273.0" cy="737.6" r="1.13"/><circle cx="281.2" cy="872.9" r="0.80"/><circle cx="272.4" cy="791.0" r="0.97"/><circle cx="275.2" cy="791.1" r="0.83"/><circle cx="287.4" cy="815.4" r="0.94"/><circle cx="272.9" cy="736.5" r="1.12"/><circle cx="267.1" cy="812.8" r="0.60"/><circle cx="274.9" cy="790.1" r="0.68"/><circle cx="272.2" cy="710.9" r="0.63"/><circle cx="279.3" cy="783.3" r="0.95"/><circle cx="265.4" cy="884.9" r="0.80"/><circle cx="270.4" cy="779.0" r="0.60"/><circle cx="276.8" cy="750.6" r="0.93"/><circle cx="274.9" cy="729.7" r="0.69"/><circle cx="262.4" cy="777.3" r="0.59"/><circle cx="278.7" cy="774.9" r="0.87"/><circle cx="276.1" cy="890.8" r="0.62"/><circle cx="270.5" cy="847.7" r="0.75"/><circle cx="266.2" cy="941.7" r="0.61"/><circle cx="274.7" cy="764.4" r="0.80"/><circle cx="279.0" cy="895.3" r="0.74"/><circle cx="292.4" cy="829.1" r="0.94"/><circle cx="272.8" cy="746.3" r="0.65"/><circle cx="268.3" cy="813.6" r="0.69"/><circle cx="273.1" cy="861.4" r="1.06"/><circle cx="269.1" cy="754.6" r="0.59"/><circle cx="278.1" cy="741.3" r="0.57"/><circle cx="280.5" cy="764.0" r="0.60"/><circle cx="272.3" cy="806.7" r="1.06"/><circle cx="270.5" cy="933.3" r="0.70"/><circle cx="277.6" cy="841.7" r="0.60"/><circle cx="273.9" cy="776.2" r="0.93"/><circle cx="278.7" cy="857.7" r="0.51"/><circle cx="276.0" cy="764.2" r="0.71"/><circle cx="274.3" cy="688.2" r="0.68"/><circle cx="278.8" cy="828.4" r="0.81"/><circle cx="273.5" cy="788.0" r="0.77"/><circle cx="258.8" cy="833.2" r="0.95"/><circle cx="278.7" cy="774.8" r="0.83"/><circle cx="275.0" cy="728.7" r="0.87"/><circle cx="267.5" cy="787.0" r="0.71"/><circle cx="268.5" cy="716.8" r="0.91"/><circle cx="269.8" cy="776.8" r="0.68"/><circle cx="276.4" cy="751.6" r="0.87"/><circle cx="271.3" cy="726.8" r="1.12"/><circle cx="263.5" cy="781.7" r="0.57"/><circle cx="264.2" cy="896.3" r="0.68"/><circle cx="269.0" cy="722.7" r="0.67"/><circle cx="274.5" cy="705.4" r="0.83"/><circle cx="259.1" cy="928.4" r="0.52"/><circle cx="267.8" cy="911.4" r="0.93"/><circle cx="271.4" cy="828.4" r="0.92"/><circle cx="278.0" cy="792.6" r="0.70"/><circle cx="265.6" cy="796.2" r="0.61"/><circle cx="266.4" cy="802.0" r="0.71"/><circle cx="272.5" cy="700.8" r="0.84"/><circle cx="275.6" cy="816.9" r="0.95"/><circle cx="283.5" cy="904.7" r="0.93"/><circle cx="273.2" cy="887.8" r="1.09"/><circle cx="273.3" cy="745.7" r="0.70"/><circle cx="274.1" cy="853.3" r="1.08"/><circle cx="277.5" cy="829.9" r="1.15"/><circle cx="268.8" cy="851.4" r="1.04"/><circle cx="274.7" cy="836.3" r="0.70"/><circle cx="265.4" cy="884.2" r="0.87"/><circle cx="279.0" cy="743.1" r="0.80"/><circle cx="273.8" cy="760.0" r="0.62"/><circle cx="274.3" cy="794.5" r="0.72"/><circle cx="268.2" cy="858.1" r="0.60"/><circle cx="270.6" cy="772.2" r="0.92"/><circle cx="278.5" cy="839.7" r="0.78"/><circle cx="277.9" cy="806.8" r="0.57"/><circle cx="269.7" cy="785.8" r="0.61"/><circle cx="263.1" cy="855.7" r="0.70"/><circle cx="279.0" cy="786.9" r="0.53"/><circle cx="256.4" cy="894.3" r="0.56"/><circle cx="268.0" cy="816.0" r="0.87"/><circle cx="271.7" cy="720.3" r="1.09"/><circle cx="276.4" cy="884.6" r="1.01"/><circle cx="276.0" cy="800.3" r="0.52"/><circle cx="276.3" cy="766.6" r="0.98"/><circle cx="266.9" cy="746.6" r="0.74"/><circle cx="276.9" cy="746.4" r="0.93"/><circle cx="272.3" cy="764.1" r="1.10"/><circle cx="276.0" cy="795.9" r="0.76"/><circle cx="273.1" cy="758.6" r="1.10"/><circle cx="271.9" cy="711.6" r="0.66"/><circle cx="276.1" cy="710.9" r="0.79"/><circle cx="275.1" cy="774.7" r="1.05"/><circle cx="283.4" cy="926.7" r="0.92"/><circle cx="270.3" cy="700.8" r="0.55"/><circle cx="281.0" cy="752.8" r="0.59"/><circle cx="279.4" cy="761.9" r="0.51"/><circle cx="272.8" cy="743.9" r="0.78"/><circle cx="265.0" cy="795.7" r="0.66"/><circle cx="275.5" cy="872.9" r="0.65"/><circle cx="289.9" cy="906.1" r="0.50"/><circle cx="267.3" cy="951.6" r="0.86"/><circle cx="272.2" cy="723.1" r="0.79"/><circle cx="279.6" cy="909.6" r="0.60"/><circle cx="270.0" cy="871.4" r="0.66"/><circle cx="275.2" cy="853.3" r="1.03"/><circle cx="257.4" cy="850.8" r="0.68"/><circle cx="283.0" cy="783.6" r="0.51"/><circle cx="275.8" cy="729.4" r="0.91"/><circle cx="278.1" cy="814.3" r="0.71"/><circle cx="270.4" cy="823.1" r="0.84"/><circle cx="268.8" cy="856.1" r="1.06"/><circle cx="273.5" cy="718.8" r="0.85"/><circle cx="255.4" cy="836.8" r="0.61"/><circle cx="273.5" cy="725.2" r="0.82"/><circle cx="276.3" cy="913.0" r="0.78"/><circle cx="279.5" cy="820.4" r="0.65"/><circle cx="276.9" cy="879.9" r="0.81"/><circle cx="272.7" cy="881.2" r="0.71"/><circle cx="274.3" cy="853.7" r="0.62"/><circle cx="277.7" cy="784.9" r="0.81"/><circle cx="269.5" cy="814.1" r="0.77"/><circle cx="272.3" cy="786.6" r="1.10"/><circle cx="271.4" cy="793.8" r="0.73"/><circle cx="261.3" cy="854.8" r="0.64"/><circle cx="257.1" cy="850.9" r="0.82"/><circle cx="280.0" cy="851.3" r="0.69"/><circle cx="262.9" cy="801.1" r="0.92"/><circle cx="281.1" cy="894.1" r="0.72"/><circle cx="270.4" cy="950.7" r="1.03"/><circle cx="273.2" cy="825.8" r="0.88"/><circle cx="279.7" cy="820.2" r="0.81"/><circle cx="270.4" cy="783.0" r="0.67"/><circle cx="265.8" cy="785.1" r="0.81"/><circle cx="276.2" cy="771.4" r="0.60"/><circle cx="277.1" cy="821.8" r="0.72"/><circle cx="265.5" cy="805.1" r="0.60"/><circle cx="281.0" cy="754.8" r="0.66"/><circle cx="283.5" cy="915.0" r="0.67"/><circle cx="273.6" cy="743.0" r="1.00"/><circle cx="274.7" cy="751.0" r="0.77"/><circle cx="265.7" cy="808.1" r="0.66"/><circle cx="260.9" cy="852.4" r="0.51"/><circle cx="275.3" cy="742.0" r="1.03"/><circle cx="276.7" cy="769.8" r="0.91"/><circle cx="283.2" cy="898.0" r="0.85"/><circle cx="267.3" cy="822.9" r="0.70"/><circle cx="277.2" cy="746.2" r="0.53"/><circle cx="279.1" cy="804.5" r="0.72"/><circle cx="274.3" cy="813.5" r="1.06"/><circle cx="271.8" cy="804.8" r="0.97"/><circle cx="260.2" cy="853.2" r="0.92"/><circle cx="266.3" cy="817.1" r="0.90"/><circle cx="277.9" cy="850.1" r="0.71"/><circle cx="269.6" cy="730.7" r="0.69"/><circle cx="270.5" cy="786.3" r="1.14"/><circle cx="280.4" cy="765.3" r="0.63"/><circle cx="274.1" cy="838.9" r="1.00"/><circle cx="269.6" cy="847.6" r="0.98"/><circle cx="276.3" cy="841.7" r="0.85"/><circle cx="286.0" cy="889.7" r="0.58"/><circle cx="274.3" cy="776.2" r="0.74"/><circle cx="268.4" cy="757.0" r="0.64"/><circle cx="273.5" cy="794.0" r="0.91"/><circle cx="273.2" cy="681.3" r="1.05"/><circle cx="264.5" cy="798.6" r="0.92"/><circle cx="277.1" cy="788.8" r="0.79"/><circle cx="272.5" cy="731.1" r="0.98"/><circle cx="272.9" cy="707.1" r="1.00"/><circle cx="272.7" cy="724.0" r="1.07"/><circle cx="261.2" cy="880.2" r="0.78"/><circle cx="277.9" cy="874.3" r="0.93"/><circle cx="270.5" cy="876.6" r="0.61"/><circle cx="279.2" cy="880.1" r="0.53"/><circle cx="267.4" cy="775.9" r="0.70"/><circle cx="273.6" cy="864.9" r="0.95"/><circle cx="263.0" cy="851.4" r="0.67"/><circle cx="281.9" cy="754.2" r="0.87"/><circle cx="272.7" cy="765.6" r="1.14"/><circle cx="278.3" cy="758.9" r="0.81"/><circle cx="269.0" cy="902.6" r="0.60"/><circle cx="267.0" cy="745.8" r="0.90"/><circle cx="265.4" cy="834.7" r="0.88"/><circle cx="274.5" cy="899.6" r="0.73"/><circle cx="272.0" cy="804.0" r="1.04"/><circle cx="284.3" cy="802.4" r="0.86"/><circle cx="259.5" cy="892.4" r="0.90"/><circle cx="266.0" cy="820.3" r="0.77"/><circle cx="274.0" cy="724.5" r="0.66"/><circle cx="286.8" cy="832.6" r="0.73"/><circle cx="274.9" cy="712.9" r="0.55"/><circle cx="273.5" cy="769.3" r="0.61"/><circle cx="275.9" cy="833.3" r="1.12"/><circle cx="272.6" cy="680.9" r="0.58"/><circle cx="270.7" cy="694.1" r="0.71"/><circle cx="267.1" cy="784.5" r="0.93"/><circle cx="266.9" cy="744.1" r="0.80"/><circle cx="259.6" cy="783.2" r="0.57"/><circle cx="272.3" cy="733.9" r="1.10"/><circle cx="278.8" cy="953.8" r="0.57"/><circle cx="261.2" cy="864.9" r="0.55"/><circle cx="269.5" cy="763.3" r="0.56"/><circle cx="273.3" cy="808.6" r="0.97"/><circle cx="273.8" cy="726.2" r="0.92"/><circle cx="275.5" cy="800.3" r="0.78"/><circle cx="270.1" cy="711.1" r="0.53"/><circle cx="282.2" cy="875.6" r="0.62"/><circle cx="281.9" cy="788.6" r="0.62"/><circle cx="269.6" cy="718.3" r="0.55"/><circle cx="284.5" cy="951.8" r="0.90"/><circle cx="265.5" cy="862.5" r="0.62"/><circle cx="272.4" cy="728.1" r="1.15"/><circle cx="273.8" cy="698.1" r="1.00"/><circle cx="272.6" cy="768.2" r="0.60"/><circle cx="273.8" cy="723.5" r="0.76"/><circle cx="271.8" cy="709.8" r="1.02"/><circle cx="275.5" cy="874.9" r="0.93"/><circle cx="275.2" cy="812.7" r="0.71"/><circle cx="271.7" cy="728.3" r="1.00"/><circle cx="268.4" cy="766.5" r="0.89"/><circle cx="281.0" cy="812.0" r="0.89"/><circle cx="271.3" cy="746.7" r="0.87"/><circle cx="267.2" cy="775.7" r="0.50"/><circle cx="282.3" cy="819.7" r="0.73"/><circle cx="268.0" cy="762.4" r="0.53"/><circle cx="282.4" cy="812.5" r="0.74"/><circle cx="280.5" cy="824.8" r="0.58"/><circle cx="273.1" cy="699.6" r="1.05"/><circle cx="273.1" cy="678.7" r="0.61"/><circle cx="267.1" cy="842.6" r="0.74"/><circle cx="280.5" cy="872.4" r="0.52"/><circle cx="264.6" cy="814.2" r="0.55"/><circle cx="260.7" cy="786.8" r="0.57"/><circle cx="264.1" cy="791.1" r="0.74"/><circle cx="275.0" cy="893.7" r="0.84"/><circle cx="280.1" cy="914.1" r="0.73"/><circle cx="270.7" cy="741.8" r="0.74"/><circle cx="268.3" cy="815.4" r="0.56"/><circle cx="267.5" cy="924.8" r="0.97"/><circle cx="271.5" cy="748.7" r="0.92"/><circle cx="262.0" cy="848.9" r="0.93"/><circle cx="273.9" cy="752.8" r="0.96"/><circle cx="271.6" cy="747.3" r="0.56"/><circle cx="272.6" cy="707.8" r="0.82"/><circle cx="279.6" cy="753.0" r="0.88"/><circle cx="278.8" cy="845.7" r="0.79"/><circle cx="265.9" cy="802.7" r="0.64"/><circle cx="270.1" cy="739.8" r="0.73"/><circle cx="277.8" cy="780.4" r="0.89"/><circle cx="273.2" cy="738.7" r="0.87"/><circle cx="274.2" cy="715.7" r="0.53"/><circle cx="267.1" cy="781.7" r="0.83"/><circle cx="276.2" cy="701.5" r="0.57"/><circle cx="271.6" cy="767.1" r="0.97"/><circle cx="277.1" cy="888.8" r="1.10"/><circle cx="259.5" cy="838.7" r="0.93"/><circle cx="277.9" cy="834.7" r="0.93"/><circle cx="260.1" cy="779.3" r="0.71"/><circle cx="265.5" cy="878.2" r="0.67"/><circle cx="278.5" cy="762.7" r="0.88"/><circle cx="276.4" cy="813.9" r="0.68"/><circle cx="281.0" cy="835.7" r="0.54"/><circle cx="270.5" cy="819.0" r="0.98"/><circle cx="267.0" cy="782.2" r="0.93"/><circle cx="267.7" cy="864.8" r="0.65"/><circle cx="265.1" cy="777.8" r="0.90"/><circle cx="268.1" cy="796.8" r="0.95"/><circle cx="275.0" cy="768.9" r="0.77"/><circle cx="269.6" cy="817.6" r="0.90"/><circle cx="269.4" cy="791.2" r="0.88"/><circle cx="275.6" cy="724.2" r="0.78"/><circle cx="286.2" cy="843.7" r="0.52"/><circle cx="271.0" cy="788.5" r="0.77"/><circle cx="267.1" cy="868.9" r="0.92"/><circle cx="284.6" cy="862.4" r="0.72"/><circle cx="268.0" cy="829.3" r="0.95"/><circle cx="265.1" cy="835.4" r="0.55"/><circle cx="274.3" cy="700.7" r="0.87"/><circle cx="274.6" cy="687.9" r="0.85"/><circle cx="272.4" cy="763.0" r="0.75"/><circle cx="278.1" cy="837.7" r="0.70"/><circle cx="278.3" cy="781.1" r="0.93"/><circle cx="265.7" cy="796.6" r="0.61"/><circle cx="280.2" cy="757.5" r="0.93"/><circle cx="271.9" cy="740.0" r="1.00"/><circle cx="275.4" cy="733.8" r="0.86"/><circle cx="269.8" cy="740.1" r="0.66"/><circle cx="278.9" cy="753.7" r="0.67"/><circle cx="276.8" cy="786.1" r="0.56"/><circle cx="272.6" cy="740.5" r="0.62"/><circle cx="276.6" cy="861.3" r="0.57"/><circle cx="270.6" cy="873.3" r="0.67"/><circle cx="284.9" cy="797.7" r="0.86"/><circle cx="271.8" cy="715.9" r="1.13"/><circle cx="266.3" cy="815.4" r="0.70"/><circle cx="273.8" cy="839.2" r="0.72"/><circle cx="282.9" cy="921.2" r="0.73"/><circle cx="275.7" cy="826.3" r="0.96"/><circle cx="265.4" cy="833.5" r="0.68"/><circle cx="274.2" cy="694.8" r="0.80"/><circle cx="268.8" cy="774.1" r="0.63"/><circle cx="271.9" cy="735.2" r="0.82"/><circle cx="271.0" cy="708.1" r="0.51"/><circle cx="268.6" cy="771.2" r="0.61"/><circle cx="259.2" cy="851.1" r="0.55"/><circle cx="277.1" cy="875.2" r="0.71"/><circle cx="275.3" cy="757.3" r="0.62"/><circle cx="278.6" cy="759.5" r="0.76"/><circle cx="286.1" cy="876.4" r="0.70"/><circle cx="285.7" cy="867.1" r="0.85"/><circle cx="274.5" cy="752.5" r="1.07"/><circle cx="272.8" cy="844.9" r="1.04"/><circle cx="278.0" cy="885.9" r="0.98"/><circle cx="274.1" cy="783.4" r="0.65"/><circle cx="265.0" cy="850.9" r="0.52"/><circle cx="254.9" cy="871.1" r="0.56"/><circle cx="273.1" cy="889.4" r="0.99"/><circle cx="253.5" cy="902.1" r="0.79"/><circle cx="268.0" cy="826.7" r="0.53"/><circle cx="274.5" cy="773.1" r="0.68"/><circle cx="276.2" cy="738.5" r="0.73"/><circle cx="275.7" cy="771.2" r="0.91"/><circle cx="272.0" cy="766.1" r="0.90"/><circle cx="269.0" cy="889.0" r="0.71"/><circle cx="270.9" cy="703.0" r="0.66"/><circle cx="271.7" cy="729.5" r="0.99"/><circle cx="276.4" cy="799.0" r="0.65"/><circle cx="273.9" cy="805.0" r="0.61"/><circle cx="273.8" cy="795.1" r="0.90"/><circle cx="284.7" cy="855.6" r="0.61"/><circle cx="270.9" cy="740.8" r="0.51"/><circle cx="268.5" cy="755.3" r="0.92"/><circle cx="266.4" cy="764.1" r="0.87"/><circle cx="269.6" cy="762.2" r="0.87"/><circle cx="271.8" cy="738.9" r="0.91"/><circle cx="270.5" cy="813.9" r="0.64"/><circle cx="281.1" cy="868.1" r="0.70"/><circle cx="267.1" cy="792.5" r="0.69"/><circle cx="268.2" cy="767.5" r="0.80"/><circle cx="268.8" cy="717.4" r="0.66"/><circle cx="273.4" cy="726.3" r="0.78"/><circle cx="251.5" cy="845.4" r="0.72"/><circle cx="260.9" cy="856.4" r="0.65"/><circle cx="276.1" cy="924.9" r="0.85"/><circle cx="280.8" cy="777.1" r="0.69"/><circle cx="271.2" cy="822.6" r="0.70"/><circle cx="274.8" cy="743.0" r="0.89"/><circle cx="270.6" cy="742.4" r="0.76"/><circle cx="271.2" cy="839.5" r="0.82"/><circle cx="276.8" cy="877.8" r="0.69"/><circle cx="267.6" cy="893.2" r="0.85"/><circle cx="273.3" cy="686.6" r="0.93"/><circle cx="272.7" cy="731.4" r="0.99"/><circle cx="271.6" cy="920.8" r="1.02"/><circle cx="271.1" cy="705.3" r="0.83"/><circle cx="285.3" cy="901.3" r="0.61"/><circle cx="269.8" cy="725.6" r="0.88"/><circle cx="278.1" cy="837.4" r="0.86"/><circle cx="274.8" cy="753.5" r="0.81"/><circle cx="281.9" cy="825.1" r="0.51"/><circle cx="280.6" cy="900.5" r="0.81"/><circle cx="282.3" cy="783.1" r="0.57"/><circle cx="277.6" cy="839.7" r="0.86"/><circle cx="281.4" cy="836.2" r="0.66"/><circle cx="273.9" cy="683.1" r="0.80"/><circle cx="270.7" cy="748.5" r="0.76"/><circle cx="274.2" cy="955.7" r="0.91"/><circle cx="268.3" cy="852.8" r="1.08"/><circle cx="283.2" cy="757.6" r="0.83"/><circle cx="268.0" cy="816.6" r="0.68"/><circle cx="279.6" cy="763.1" r="0.72"/><circle cx="273.2" cy="775.8" r="0.67"/><circle cx="278.6" cy="800.5" r="0.76"/><circle cx="278.4" cy="757.1" r="0.64"/><circle cx="275.9" cy="879.3" r="1.12"/><circle cx="271.8" cy="768.1" r="0.70"/><circle cx="271.9" cy="772.8" r="0.84"/><circle cx="254.6" cy="920.1" r="0.62"/><circle cx="274.5" cy="744.2" r="0.69"/><circle cx="273.8" cy="732.9" r="1.08"/><circle cx="284.3" cy="856.7" r="0.83"/><circle cx="270.5" cy="731.1" r="1.01"/><circle cx="267.5" cy="856.9" r="0.63"/><circle cx="266.0" cy="789.3" r="0.78"/><circle cx="270.6" cy="766.3" r="0.71"/><circle cx="269.7" cy="878.6" r="0.65"/><circle cx="272.4" cy="715.0" r="1.05"/><circle cx="268.4" cy="791.9" r="0.92"/><circle cx="268.1" cy="829.8" r="0.83"/><circle cx="271.8" cy="759.1" r="0.94"/><circle cx="272.0" cy="708.0" r="0.86"/><circle cx="273.8" cy="695.9" r="0.88"/><circle cx="276.7" cy="829.9" r="1.12"/><circle cx="277.0" cy="775.3" r="0.91"/><circle cx="276.2" cy="716.7" r="0.85"/><circle cx="265.8" cy="813.7" r="0.71"/><circle cx="282.1" cy="763.3" r="0.55"/><circle cx="268.7" cy="881.2" r="1.08"/><circle cx="269.5" cy="734.5" r="0.62"/><circle cx="274.8" cy="794.9" r="0.79"/><circle cx="278.1" cy="732.4" r="0.57"/><circle cx="269.0" cy="907.0" r="1.09"/><circle cx="282.4" cy="842.1" r="0.76"/><circle cx="277.3" cy="924.3" r="0.85"/><circle cx="266.9" cy="918.6" r="1.08"/><circle cx="273.2" cy="677.0" r="1.10"/><circle cx="273.3" cy="698.1" r="0.98"/><circle cx="273.3" cy="736.7" r="1.14"/><circle cx="275.1" cy="761.1" r="0.67"/><circle cx="268.9" cy="810.4" r="0.81"/><circle cx="275.9" cy="814.2" r="0.79"/><circle cx="284.8" cy="770.6" r="0.83"/><circle cx="272.3" cy="748.6" r="0.75"/><circle cx="272.2" cy="689.8" r="0.75"/><circle cx="272.5" cy="774.4" r="0.98"/><circle cx="256.8" cy="858.1" r="0.94"/><circle cx="268.6" cy="785.0" r="0.83"/><circle cx="285.7" cy="781.0" r="0.50"/><circle cx="273.2" cy="778.6" r="1.06"/><circle cx="276.7" cy="763.4" r="0.90"/><circle cx="282.9" cy="760.9" r="0.88"/><circle cx="274.2" cy="816.9" r="1.15"/><circle cx="272.6" cy="737.5" r="0.99"/><circle cx="265.6" cy="783.3" r="0.78"/><circle cx="265.2" cy="865.0" r="0.60"/><circle cx="263.8" cy="846.4" r="0.91"/><circle cx="264.2" cy="806.3" r="0.60"/><circle cx="273.2" cy="822.3" r="0.89"/><circle cx="281.2" cy="904.2" r="0.71"/><circle cx="276.4" cy="705.4" r="0.61"/><circle cx="287.6" cy="870.2" r="0.72"/><circle cx="273.1" cy="775.7" r="0.79"/><circle cx="278.0" cy="779.8" r="0.59"/><circle cx="280.3" cy="834.3" r="0.62"/><circle cx="281.8" cy="763.3" r="0.88"/><circle cx="259.4" cy="917.4" r="0.78"/><circle cx="277.4" cy="777.0" r="0.70"/><circle cx="271.0" cy="775.7" r="0.96"/><circle cx="282.2" cy="903.5" r="0.67"/><circle cx="269.2" cy="875.0" r="0.64"/><circle cx="268.2" cy="887.7" r="0.74"/><circle cx="266.9" cy="888.0" r="0.71"/><circle cx="267.3" cy="796.7" r="0.73"/><circle cx="285.3" cy="883.2" r="0.75"/><circle cx="273.8" cy="704.0" r="0.64"/><circle cx="285.6" cy="905.4" r="0.75"/><circle cx="279.3" cy="874.8" r="0.52"/><circle cx="249.1" cy="869.0" r="0.87"/><circle cx="257.3" cy="921.1" r="0.65"/><circle cx="280.8" cy="819.2" r="0.62"/><circle cx="274.2" cy="760.2" r="1.07"/><circle cx="271.9" cy="830.0" r="0.77"/><circle cx="273.6" cy="916.7" r="0.71"/><circle cx="264.5" cy="777.7" r="0.66"/><circle cx="275.1" cy="900.8" r="1.11"/><circle cx="270.2" cy="830.2" r="0.68"/><circle cx="284.3" cy="832.7" r="0.62"/><circle cx="270.9" cy="899.3" r="0.93"/><circle cx="254.5" cy="854.1" r="0.89"/><circle cx="270.7" cy="813.5" r="0.72"/><circle cx="267.0" cy="911.4" r="0.91"/><circle cx="277.1" cy="729.6" r="0.93"/><circle cx="277.9" cy="789.4" r="0.62"/><circle cx="272.1" cy="714.6" r="1.06"/><circle cx="273.2" cy="754.6" r="0.92"/><circle cx="280.9" cy="761.8" r="0.65"/><circle cx="287.8" cy="912.3" r="0.86"/><circle cx="267.4" cy="854.5" r="0.86"/><circle cx="272.4" cy="879.7" r="0.97"/><circle cx="266.5" cy="821.6" r="0.72"/><circle cx="282.0" cy="937.8" r="0.72"/><circle cx="278.9" cy="825.7" r="0.90"/><circle cx="277.8" cy="913.5" r="1.11"/><circle cx="271.6" cy="799.5" r="1.03"/><circle cx="271.5" cy="755.9" r="0.75"/><circle cx="268.9" cy="802.9" r="0.96"/><circle cx="273.0" cy="771.6" r="0.96"/><circle cx="274.5" cy="717.2" r="0.88"/><circle cx="271.6" cy="712.9" r="1.08"/><circle cx="269.6" cy="824.4" r="0.74"/><circle cx="274.9" cy="816.0" r="0.71"/><circle cx="274.8" cy="786.3" r="0.89"/><circle cx="277.4" cy="810.7" r="0.76"/><circle cx="271.8" cy="868.4" r="0.75"/><circle cx="269.6" cy="819.2" r="0.90"/><circle cx="274.1" cy="737.4" r="0.63"/><circle cx="266.9" cy="740.8" r="0.94"/><circle cx="261.6" cy="768.5" r="0.50"/><circle cx="274.9" cy="787.2" r="0.61"/><circle cx="273.5" cy="713.6" r="0.72"/><circle cx="276.8" cy="765.3" r="0.95"/><circle cx="284.7" cy="813.2" r="0.79"/><circle cx="268.3" cy="770.6" r="0.93"/><circle cx="274.5" cy="795.4" r="0.76"/><circle cx="265.1" cy="736.8" r="0.71"/><circle cx="277.9" cy="738.2" r="0.82"/><circle cx="266.6" cy="782.9" r="0.86"/><circle cx="273.0" cy="898.4" r="0.66"/><circle cx="272.9" cy="844.2" r="0.78"/><circle cx="275.0" cy="731.5" r="0.63"/><circle cx="271.7" cy="695.3" r="0.82"/><circle cx="272.9" cy="797.3" r="0.98"/><circle cx="270.5" cy="723.0" r="1.13"/><circle cx="279.0" cy="774.4" r="0.90"/><circle cx="266.2" cy="783.6" r="0.93"/><circle cx="271.9" cy="903.1" r="0.90"/><circle cx="274.5" cy="778.5" r="1.09"/><circle cx="265.8" cy="861.9" r="0.93"/><circle cx="268.5" cy="774.2" r="0.78"/><circle cx="266.5" cy="778.2" r="0.72"/><circle cx="257.2" cy="866.9" r="0.70"/><circle cx="262.5" cy="926.7" r="0.52"/><circle cx="267.5" cy="783.0" r="0.79"/><circle cx="281.2" cy="864.8" r="0.93"/><circle cx="266.7" cy="749.9" r="0.86"/><circle cx="268.7" cy="770.0" r="0.73"/><circle cx="271.3" cy="922.7" r="0.77"/><circle cx="270.0" cy="726.8" r="0.70"/><circle cx="271.8" cy="701.2" r="0.93"/><circle cx="276.7" cy="746.9" r="0.91"/><circle cx="263.7" cy="799.7" r="0.64"/><circle cx="262.7" cy="805.4" r="0.80"/><circle cx="262.7" cy="886.8" r="0.74"/><circle cx="282.5" cy="753.1" r="0.62"/><circle cx="279.4" cy="892.2" r="0.79"/><circle cx="268.5" cy="740.1" r="0.75"/><circle cx="275.7" cy="788.9" r="0.79"/><circle cx="278.2" cy="883.8" r="0.82"/><circle cx="280.8" cy="902.1" r="0.74"/><circle cx="289.7" cy="820.1" r="0.91"/><circle cx="274.9" cy="708.5" r="0.73"/><circle cx="277.6" cy="836.4" r="0.92"/><circle cx="267.5" cy="749.2" r="0.62"/><circle cx="268.2" cy="731.4" r="0.54"/><circle cx="273.3" cy="901.0" r="1.06"/><circle cx="272.3" cy="763.6" r="0.95"/><circle cx="275.0" cy="710.0" r="0.75"/><circle cx="277.4" cy="902.5" r="1.06"/><circle cx="272.0" cy="701.8" r="0.65"/><circle cx="268.2" cy="833.7" r="0.86"/><circle cx="263.9" cy="792.1" r="0.76"/><circle cx="264.1" cy="785.2" r="0.76"/><circle cx="271.3" cy="954.0" r="0.85"/><circle cx="272.5" cy="800.9" r="0.70"/><circle cx="275.1" cy="786.0" r="0.73"/><circle cx="282.2" cy="796.3" r="0.82"/><circle cx="267.3" cy="726.7" r="0.94"/><circle cx="268.6" cy="877.2" r="0.71"/><circle cx="277.1" cy="746.0" r="0.95"/><circle cx="280.6" cy="758.1" r="0.58"/><circle cx="275.3" cy="772.3" r="0.66"/><circle cx="271.4" cy="700.7" r="0.85"/><circle cx="275.3" cy="807.2" r="0.91"/><circle cx="276.8" cy="816.3" r="0.74"/><circle cx="279.2" cy="880.9" r="0.56"/><circle cx="257.3" cy="838.6" r="0.50"/><circle cx="279.3" cy="803.5" r="0.53"/><circle cx="270.1" cy="763.1" r="0.90"/><circle cx="274.7" cy="809.5" r="1.10"/><circle cx="276.5" cy="780.2" r="0.77"/><circle cx="270.2" cy="706.4" r="0.79"/><circle cx="275.2" cy="873.6" r="0.64"/><circle cx="265.5" cy="878.6" r="0.80"/><circle cx="274.2" cy="875.6" r="0.96"/><circle cx="282.2" cy="869.3" r="0.77"/><circle cx="275.7" cy="783.0" r="0.83"/><circle cx="272.4" cy="681.0" r="0.94"/><circle cx="280.1" cy="901.2" r="0.92"/><circle cx="272.9" cy="714.2" r="1.02"/><circle cx="274.2" cy="874.5" r="0.88"/><circle cx="269.4" cy="814.7" r="0.77"/><circle cx="284.1" cy="900.3" r="0.63"/><circle cx="274.3" cy="784.3" r="1.01"/><circle cx="279.4" cy="729.7" r="0.75"/><circle cx="283.2" cy="771.5" r="0.83"/><circle cx="278.6" cy="757.2" r="0.94"/><circle cx="283.3" cy="891.4" r="0.53"/><circle cx="263.8" cy="842.4" r="0.77"/><circle cx="275.0" cy="876.4" r="0.97"/><circle cx="279.9" cy="922.9" r="0.82"/><circle cx="271.9" cy="742.8" r="0.79"/><circle cx="278.7" cy="749.0" r="0.69"/><circle cx="275.9" cy="764.7" r="1.04"/><circle cx="257.1" cy="823.2" r="0.87"/><circle cx="270.2" cy="760.3" r="0.93"/><circle cx="280.6" cy="857.2" r="0.92"/><circle cx="272.7" cy="695.8" r="0.51"/><circle cx="286.3" cy="796.1" r="0.81"/><circle cx="279.5" cy="741.6" r="0.59"/><circle cx="274.1" cy="855.3" r="0.96"/><circle cx="275.3" cy="757.5" r="0.80"/><circle cx="272.8" cy="711.0" r="0.87"/><circle cx="271.0" cy="721.2" r="0.98"/><circle cx="278.5" cy="798.1" r="0.54"/><circle cx="276.1" cy="909.7" r="1.07"/><circle cx="271.5" cy="750.0" r="0.59"/><circle cx="265.8" cy="930.6" r="0.80"/><circle cx="268.6" cy="722.0" r="0.54"/><circle cx="272.0" cy="857.8" r="0.61"/><circle cx="275.4" cy="915.5" r="1.13"/><circle cx="279.5" cy="774.7" r="0.61"/><circle cx="280.6" cy="775.5" r="0.55"/><circle cx="274.8" cy="752.2" r="0.71"/><circle cx="269.8" cy="733.1" r="0.66"/><circle cx="273.7" cy="854.7" r="0.96"/><circle cx="271.2" cy="910.9" r="0.62"/><circle cx="260.9" cy="796.2" r="0.54"/><circle cx="273.2" cy="720.1" r="0.84"/><circle cx="271.6" cy="704.1" r="0.92"/><circle cx="282.0" cy="829.8" r="0.60"/><circle cx="281.6" cy="917.1" r="0.61"/><circle cx="270.7" cy="731.2" r="0.75"/><circle cx="266.9" cy="880.6" r="0.59"/><circle cx="273.2" cy="860.9" r="0.67"/><circle cx="269.9" cy="721.8" r="0.51"/><circle cx="265.2" cy="805.4" r="0.74"/><circle cx="268.3" cy="737.4" r="0.57"/><circle cx="267.4" cy="775.9" r="0.58"/><circle cx="273.8" cy="735.3" r="0.72"/><circle cx="272.1" cy="710.5" r="1.01"/><circle cx="273.5" cy="737.1" r="0.88"/><circle cx="278.2" cy="801.5" r="0.68"/><circle cx="272.5" cy="768.8" r="0.61"/><circle cx="272.4" cy="777.7" r="0.93"/><circle cx="273.6" cy="744.3" r="0.91"/><circle cx="272.9" cy="875.0" r="1.13"/><circle cx="273.7" cy="713.0" r="0.73"/><circle cx="274.1" cy="686.4" r="0.70"/><circle cx="278.9" cy="787.8" r="0.80"/><circle cx="274.1" cy="787.4" r="0.61"/><circle cx="273.4" cy="753.4" r="1.13"/><circle cx="274.6" cy="817.7" r="0.92"/><circle cx="287.2" cy="834.3" r="0.81"/><circle cx="270.2" cy="743.6" r="0.80"/><circle cx="280.8" cy="849.8" r="0.80"/><circle cx="262.2" cy="900.3" r="0.82"/><circle cx="273.8" cy="856.5" r="1.13"/><circle cx="256.1" cy="896.3" r="0.59"/><circle cx="281.9" cy="881.8" r="0.80"/><circle cx="275.5" cy="890.9" r="0.75"/><circle cx="273.7" cy="680.3" r="0.68"/><circle cx="263.1" cy="836.2" r="0.82"/><circle cx="270.2" cy="795.9" r="0.97"/><circle cx="272.3" cy="716.4" r="1.13"/><circle cx="264.4" cy="854.9" r="0.59"/><circle cx="254.5" cy="890.7" r="0.62"/><circle cx="284.8" cy="839.6" r="0.83"/><circle cx="274.7" cy="748.5" r="0.60"/><circle cx="282.8" cy="954.3" r="0.94"/><circle cx="276.3" cy="712.8" r="0.74"/><circle cx="270.4" cy="762.2" r="0.52"/><circle cx="273.6" cy="694.2" r="0.65"/><circle cx="268.3" cy="879.9" r="1.11"/><circle cx="274.6" cy="831.4" r="0.68"/><circle cx="270.8" cy="869.5" r="1.04"/><circle cx="268.6" cy="901.0" r="0.76"/><circle cx="270.1" cy="736.6" r="0.56"/><circle cx="268.6" cy="739.4" r="0.69"/><circle cx="287.8" cy="823.5" r="0.60"/><circle cx="276.0" cy="753.8" r="0.98"/><circle cx="270.7" cy="728.9" r="0.69"/><circle cx="271.2" cy="759.2" r="0.82"/><circle cx="272.6" cy="695.7" r="0.92"/><circle cx="271.8" cy="726.9" r="0.88"/><circle cx="272.2" cy="820.1" r="1.03"/><circle cx="271.1" cy="700.6" r="0.67"/><circle cx="270.4" cy="809.3" r="0.78"/><circle cx="268.2" cy="807.3" r="0.85"/><circle cx="285.0" cy="777.0" r="0.78"/><circle cx="261.6" cy="853.4" r="0.52"/><circle cx="286.7" cy="848.4" r="0.85"/><circle cx="276.4" cy="796.0" r="0.68"/><circle cx="276.9" cy="891.2" r="0.69"/><circle cx="272.8" cy="718.7" r="1.02"/><circle cx="275.0" cy="792.6" r="0.94"/><circle cx="274.1" cy="703.7" r="0.83"/><circle cx="258.2" cy="844.0" r="0.83"/><circle cx="273.6" cy="707.3" r="1.13"/><circle cx="273.6" cy="767.6" r="1.14"/><circle cx="280.2" cy="762.5" r="0.84"/><circle cx="264.8" cy="768.4" r="0.89"/><circle cx="282.2" cy="835.6" r="0.84"/><circle cx="271.1" cy="746.6" r="0.67"/><circle cx="274.4" cy="701.7" r="0.91"/><circle cx="279.7" cy="788.2" r="0.61"/><circle cx="268.9" cy="742.9" r="0.67"/><circle cx="265.8" cy="911.8" r="0.87"/><circle cx="272.3" cy="769.4" r="1.07"/><circle cx="284.0" cy="923.1" r="0.80"/><circle cx="265.2" cy="857.9" r="0.89"/><circle cx="266.5" cy="827.8" r="0.85"/><circle cx="283.9" cy="920.5" r="0.65"/><circle cx="272.9" cy="741.8" r="1.04"/><circle cx="273.3" cy="735.4" r="0.64"/><circle cx="266.1" cy="883.4" r="0.86"/><circle cx="275.4" cy="881.3" r="1.08"/><circle cx="259.5" cy="835.1" r="0.73"/><circle cx="265.6" cy="809.4" r="0.90"/><circle cx="266.9" cy="861.7" r="1.13"/><circle cx="277.5" cy="870.4" r="0.91"/><circle cx="268.7" cy="794.5" r="0.89"/><circle cx="274.2" cy="772.7" r="1.01"/><circle cx="293.3" cy="900.9" r="0.70"/><circle cx="259.4" cy="779.6" r="0.92"/><circle cx="269.4" cy="728.1" r="0.58"/><circle cx="286.8" cy="827.5" r="0.80"/><circle cx="283.2" cy="899.0" r="0.84"/><circle cx="266.5" cy="843.4" r="0.62"/><circle cx="268.5" cy="791.0" r="0.60"/><circle cx="274.2" cy="768.0" r="1.01"/><circle cx="270.5" cy="738.3" r="0.77"/><circle cx="272.1" cy="874.6" r="1.06"/><circle cx="279.3" cy="936.4" r="0.54"/><circle cx="268.8" cy="865.2" r="0.85"/><circle cx="274.0" cy="766.8" r="0.69"/><circle cx="275.8" cy="788.1" r="0.64"/><circle cx="273.7" cy="716.6" r="0.64"/><circle cx="276.6" cy="815.3" r="0.86"/><circle cx="269.1" cy="805.8" r="0.69"/><circle cx="271.5" cy="772.0" r="0.79"/><circle cx="280.5" cy="868.9" r="0.76"/><circle cx="286.1" cy="879.8" r="0.78"/><circle cx="261.9" cy="794.6" r="0.83"/><circle cx="269.8" cy="775.4" r="0.86"/><circle cx="261.5" cy="839.9" r="0.75"/><circle cx="284.6" cy="785.9" r="0.55"/><circle cx="262.4" cy="808.1" r="0.66"/><circle cx="287.4" cy="854.1" r="0.65"/><circle cx="273.0" cy="781.5" r="0.80"/><circle cx="267.2" cy="781.7" r="0.91"/><circle cx="266.7" cy="825.2" r="0.57"/><circle cx="283.9" cy="868.7" r="0.59"/><circle cx="274.3" cy="712.3" r="0.83"/><circle cx="273.7" cy="935.5" r="1.11"/><circle cx="271.3" cy="795.0" r="0.81"/><circle cx="262.7" cy="951.3" r="0.53"/><circle cx="272.2" cy="705.8" r="0.66"/><circle cx="268.5" cy="716.7" r="0.77"/><circle cx="271.4" cy="795.1" r="1.14"/><circle cx="274.2" cy="720.4" r="0.57"/><circle cx="279.8" cy="771.1" r="0.81"/><circle cx="277.1" cy="843.1" r="0.82"/><circle cx="269.9" cy="711.0" r="0.50"/><circle cx="282.6" cy="818.3" r="0.86"/><circle cx="261.7" cy="789.3" r="0.68"/><circle cx="270.9" cy="761.1" r="0.62"/><circle cx="273.9" cy="761.7" r="0.69"/><circle cx="285.2" cy="888.0" r="0.84"/><circle cx="277.1" cy="838.9" r="1.03"/><circle cx="273.0" cy="699.6" r="0.66"/><circle cx="271.9" cy="879.2" r="0.65"/><circle cx="262.3" cy="812.2" r="0.60"/><circle cx="256.0" cy="858.4" r="0.92"/><circle cx="287.4" cy="888.5" r="0.89"/><circle cx="272.6" cy="806.2" r="0.97"/><circle cx="269.8" cy="825.8" r="0.56"/><circle cx="271.8" cy="853.4" r="0.62"/><circle cx="286.8" cy="807.6" r="0.88"/><circle cx="262.7" cy="927.3" r="0.82"/><circle cx="275.3" cy="880.0" r="1.11"/><circle cx="272.6" cy="723.4" r="0.70"/><circle cx="270.1" cy="814.0" r="0.69"/><circle cx="279.5" cy="896.3" r="1.10"/><circle cx="269.0" cy="797.7" r="1.10"/><circle cx="259.6" cy="884.5" r="0.93"/><circle cx="274.8" cy="867.0" r="0.82"/><circle cx="268.9" cy="718.3" r="0.62"/><circle cx="273.9" cy="775.9" r="1.02"/><circle cx="280.1" cy="839.7" r="0.93"/><circle cx="268.1" cy="780.9" r="0.64"/><circle cx="271.1" cy="705.7" r="0.93"/><circle cx="264.8" cy="867.4" r="0.93"/><circle cx="281.2" cy="852.6" r="0.66"/><circle cx="262.1" cy="844.2" r="0.94"/><circle cx="272.7" cy="688.5" r="0.73"/><circle cx="279.7" cy="760.1" r="0.91"/><circle cx="274.7" cy="818.5" r="1.13"/><circle cx="282.6" cy="786.7" r="0.94"/><circle cx="277.5" cy="747.9" r="0.66"/><circle cx="280.3" cy="849.5" r="0.75"/><circle cx="280.9" cy="773.4" r="0.61"/><circle cx="274.5" cy="710.8" r="0.86"/><circle cx="283.7" cy="835.4" r="0.69"/><circle cx="282.9" cy="826.6" r="0.61"/><circle cx="277.3" cy="888.0" r="1.05"/><circle cx="269.1" cy="739.5" r="0.65"/><circle cx="275.6" cy="890.4" r="0.97"/><circle cx="276.3" cy="844.0" r="0.78"/><circle cx="272.5" cy="792.0" r="0.88"/><circle cx="269.8" cy="714.6" r="0.82"/><circle cx="284.8" cy="793.5" r="0.52"/><circle cx="269.0" cy="856.6" r="0.88"/><circle cx="272.6" cy="766.6" r="1.01"/><circle cx="278.5" cy="876.4" r="0.69"/><circle cx="280.7" cy="860.4" r="0.91"/><circle cx="279.9" cy="784.7" r="0.95"/><circle cx="278.3" cy="766.5" r="0.80"/><circle cx="271.0" cy="734.1" r="0.69"/><circle cx="265.7" cy="810.7" r="0.80"/><circle cx="274.4" cy="870.9" r="0.99"/><circle cx="274.0" cy="900.7" r="0.78"/><circle cx="270.6" cy="878.2" r="0.99"/><circle cx="265.3" cy="796.1" r="0.54"/><circle cx="282.4" cy="853.4" r="0.55"/><circle cx="265.2" cy="779.6" r="0.50"/><circle cx="276.7" cy="761.7" r="0.92"/><circle cx="266.7" cy="809.1" r="0.76"/><circle cx="275.6" cy="734.1" r="0.73"/><circle cx="271.3" cy="815.1" r="0.89"/><circle cx="269.8" cy="819.0" r="0.92"/><circle cx="272.1" cy="817.1" r="0.99"/><circle cx="281.1" cy="880.6" r="0.70"/><circle cx="266.9" cy="773.1" r="0.83"/><circle cx="276.6" cy="729.7" r="0.85"/><circle cx="273.4" cy="748.6" r="1.13"/><circle cx="276.1" cy="821.1" r="1.13"/><circle cx="272.2" cy="901.7" r="1.04"/><circle cx="276.9" cy="882.3" r="0.80"/><circle cx="271.9" cy="747.7" r="0.88"/><circle cx="276.8" cy="715.4" r="0.65"/><circle cx="265.1" cy="793.0" r="0.85"/><circle cx="277.7" cy="777.9" r="0.68"/><circle cx="267.4" cy="841.4" r="0.51"/><circle cx="277.8" cy="782.3" r="0.84"/><circle cx="274.4" cy="765.9" r="0.94"/><circle cx="270.0" cy="724.3" r="0.63"/><circle cx="262.3" cy="838.8" r="0.64"/><circle cx="266.5" cy="855.6" r="0.60"/><circle cx="274.3" cy="759.7" r="0.80"/><circle cx="277.2" cy="929.9" r="0.89"/><circle cx="272.9" cy="740.1" r="0.81"/><circle cx="275.7" cy="903.4" r="1.14"/><circle cx="264.8" cy="827.9" r="0.86"/><circle cx="273.3" cy="700.1" r="1.15"/><circle cx="268.4" cy="731.2" r="0.54"/><circle cx="268.8" cy="794.6" r="0.88"/><circle cx="286.3" cy="817.1" r="0.67"/><circle cx="277.7" cy="918.0" r="0.65"/><circle cx="266.1" cy="847.1" r="0.63"/><circle cx="268.5" cy="776.4" r="0.65"/><circle cx="268.7" cy="764.6" r="0.65"/><circle cx="277.4" cy="773.9" r="0.80"/><circle cx="280.6" cy="798.5" r="0.60"/><circle cx="277.3" cy="881.2" r="0.98"/><circle cx="289.8" cy="864.6" r="0.71"/><circle cx="268.9" cy="726.9" r="0.62"/><circle cx="259.5" cy="855.6" r="0.78"/><circle cx="278.4" cy="760.4" r="0.78"/><circle cx="274.7" cy="708.8" r="0.81"/><circle cx="276.6" cy="827.3" r="0.72"/><circle cx="262.6" cy="797.4" r="0.76"/><circle cx="254.3" cy="886.9" r="0.87"/><circle cx="279.8" cy="858.0" r="0.78"/><circle cx="281.2" cy="820.0" r="0.87"/><circle cx="266.7" cy="868.3" r="0.89"/><circle cx="272.8" cy="767.6" r="0.64"/><circle cx="275.1" cy="849.8" r="0.69"/><circle cx="264.3" cy="796.8" r="0.63"/><circle cx="288.4" cy="880.9" r="0.75"/><circle cx="281.4" cy="803.6" r="0.71"/><circle cx="270.6" cy="909.4" r="0.72"/><circle cx="267.0" cy="776.0" r="0.73"/><circle cx="267.7" cy="772.8" r="0.80"/><circle cx="280.1" cy="786.9" r="0.57"/><circle cx="278.1" cy="816.0" r="0.66"/><circle cx="286.5" cy="904.0" r="0.62"/><circle cx="262.5" cy="853.1" r="0.60"/><circle cx="277.9" cy="796.0" r="0.86"/><circle cx="271.3" cy="829.0" r="1.03"/><circle cx="270.8" cy="724.5" r="0.83"/><circle cx="277.0" cy="816.8" r="0.81"/><circle cx="277.4" cy="712.9" r="0.76"/><circle cx="268.7" cy="724.7" r="0.73"/><circle cx="271.1" cy="911.0" r="1.11"/><circle cx="272.5" cy="727.4" r="0.90"/><circle cx="268.1" cy="758.2" r="0.60"/><circle cx="266.9" cy="835.0" r="0.53"/><circle cx="280.0" cy="881.1" r="0.88"/><circle cx="271.9" cy="920.7" r="0.74"/><circle cx="275.1" cy="742.1" r="0.85"/><circle cx="272.0" cy="777.0" r="0.72"/><circle cx="270.5" cy="730.2" r="0.84"/><circle cx="285.4" cy="783.0" r="0.73"/><circle cx="279.1" cy="796.9" r="0.85"/><circle cx="274.4" cy="721.3" r="0.80"/><circle cx="268.6" cy="831.2" r="0.76"/><circle cx="274.3" cy="740.6" r="0.80"/><circle cx="270.3" cy="805.4" r="0.77"/><circle cx="272.8" cy="763.6" r="0.97"/><circle cx="276.8" cy="758.0" r="1.04"/><circle cx="267.1" cy="776.2" r="0.69"/><circle cx="276.5" cy="780.3" r="0.60"/><circle cx="271.2" cy="783.2" r="0.62"/><circle cx="273.7" cy="728.5" r="1.02"/><circle cx="269.5" cy="749.5" r="0.92"/><circle cx="273.2" cy="831.5" r="0.62"/><circle cx="274.1" cy="757.2" r="1.11"/><circle cx="272.6" cy="701.4" r="0.99"/><circle cx="274.1" cy="696.1" r="0.88"/><circle cx="272.1" cy="790.1" r="0.63"/><circle cx="289.0" cy="883.8" r="0.93"/><circle cx="273.4" cy="787.6" r="0.64"/><circle cx="269.4" cy="869.7" r="1.00"/><circle cx="276.2" cy="750.0" r="0.75"/><circle cx="282.6" cy="838.7" r="0.62"/><circle cx="275.2" cy="855.0" r="0.73"/><circle cx="265.0" cy="815.1" r="0.67"/><circle cx="277.9" cy="830.7" r="0.74"/><circle cx="267.8" cy="847.5" r="0.85"/><circle cx="270.8" cy="875.5" r="0.86"/><circle cx="273.0" cy="682.4" r="1.13"/><circle cx="265.0" cy="782.6" r="0.83"/><circle cx="282.3" cy="857.3" r="0.76"/><circle cx="266.7" cy="806.9" r="0.67"/><circle cx="270.3" cy="719.0" r="0.65"/><circle cx="272.8" cy="699.5" r="0.99"/><circle cx="272.8" cy="764.8" r="0.82"/><circle cx="276.7" cy="779.4" r="0.89"/><circle cx="276.5" cy="778.0" r="0.61"/><circle cx="273.1" cy="677.0" r="0.99"/><circle cx="273.9" cy="837.6" r="1.13"/><circle cx="278.1" cy="925.4" r="0.88"/><circle cx="276.4" cy="746.6" r="0.76"/><circle cx="281.9" cy="763.9" r="0.67"/><circle cx="272.2" cy="699.4" r="0.79"/><circle cx="267.6" cy="761.5" r="0.61"/><circle cx="270.2" cy="706.8" r="0.72"/><circle cx="279.8" cy="766.3" r="0.86"/><circle cx="271.6" cy="851.9" r="1.13"/><circle cx="271.5" cy="720.3" r="0.86"/><circle cx="271.7" cy="789.1" r="1.03"/><circle cx="269.9" cy="838.9" r="0.82"/><circle cx="282.3" cy="855.9" r="0.65"/><circle cx="273.5" cy="728.3" r="0.63"/><circle cx="271.6" cy="791.8" r="0.98"/><circle cx="282.5" cy="838.7" r="0.62"/><circle cx="272.9" cy="848.8" r="0.90"/><circle cx="270.0" cy="778.2" r="1.00"/><circle cx="276.4" cy="888.4" r="1.08"/><circle cx="283.2" cy="861.5" r="0.90"/><circle cx="269.6" cy="741.3" r="0.67"/><circle cx="251.2" cy="847.6" r="0.76"/><circle cx="271.5" cy="955.8" r="0.85"/><circle cx="286.4" cy="829.1" r="0.72"/><circle cx="269.1" cy="852.7" r="0.99"/><circle cx="266.3" cy="942.7" r="0.53"/><circle cx="289.6" cy="897.6" r="0.79"/><circle cx="270.1" cy="900.5" r="0.99"/><circle cx="278.5" cy="822.3" r="0.65"/><circle cx="270.4" cy="741.2" r="0.86"/><circle cx="275.5" cy="784.4" r="0.92"/><circle cx="271.0" cy="714.9" r="0.76"/><circle cx="285.8" cy="816.1" r="0.87"/><circle cx="287.7" cy="906.4" r="0.60"/><circle cx="268.0" cy="907.9" r="0.84"/><circle cx="278.2" cy="764.4" r="0.81"/><circle cx="270.5" cy="833.3" r="0.74"/><circle cx="285.9" cy="826.3" r="0.61"/><circle cx="261.5" cy="890.7" r="0.54"/><circle cx="274.3" cy="804.4" r="0.79"/><circle cx="274.9" cy="923.4" r="0.64"/><circle cx="272.6" cy="886.8" r="0.74"/><circle cx="269.0" cy="787.8" r="0.62"/><circle cx="275.8" cy="768.1" r="1.03"/><circle cx="261.6" cy="823.1" r="0.56"/><circle cx="269.9" cy="780.9" r="0.72"/><circle cx="282.7" cy="763.7" r="0.89"/><circle cx="255.5" cy="853.9" r="0.92"/><circle cx="282.9" cy="799.5" r="0.89"/><circle cx="277.6" cy="743.8" r="0.85"/><circle cx="274.2" cy="715.1" r="0.95"/><circle cx="281.6" cy="808.6" r="0.67"/><circle cx="258.5" cy="860.1" r="0.73"/><circle cx="264.3" cy="752.9" r="0.91"/><circle cx="276.1" cy="955.4" r="1.07"/><circle cx="273.6" cy="908.7" r="0.83"/><circle cx="264.7" cy="880.5" r="0.94"/><circle cx="268.3" cy="733.7" r="0.90"/><circle cx="276.7" cy="775.3" r="0.53"/><circle cx="277.5" cy="789.1" r="0.69"/><circle cx="267.1" cy="840.2" r="0.64"/><circle cx="276.2" cy="812.2" r="1.14"/><circle cx="279.2" cy="832.2" r="0.66"/><circle cx="273.0" cy="797.2" r="0.89"/><circle cx="272.7" cy="682.3" r="0.67"/><circle cx="268.1" cy="757.0" r="0.75"/><circle cx="282.5" cy="858.4" r="0.52"/><circle cx="275.8" cy="750.4" r="0.73"/><circle cx="273.3" cy="723.5" r="0.99"/><circle cx="267.8" cy="770.1" r="0.77"/><circle cx="265.4" cy="858.4" r="0.94"/><circle cx="269.7" cy="863.6" r="0.95"/><circle cx="273.7" cy="698.8" r="0.61"/><circle cx="271.2" cy="872.8" r="1.02"/><circle cx="269.4" cy="954.1" r="0.89"/><circle cx="270.2" cy="781.8" r="1.03"/><circle cx="278.2" cy="810.9" r="0.85"/><circle cx="275.1" cy="732.8" r="0.80"/><circle cx="271.7" cy="797.6" r="0.97"/><circle cx="267.6" cy="729.3" r="0.59"/><circle cx="269.8" cy="759.5" r="0.54"/><circle cx="270.4" cy="770.4" r="0.83"/><circle cx="271.8" cy="712.5" r="0.74"/><circle cx="288.6" cy="818.3" r="0.63"/><circle cx="260.4" cy="831.6" r="0.93"/><circle cx="270.1" cy="945.5" r="0.71"/><circle cx="278.4" cy="759.0" r="0.90"/><circle cx="277.3" cy="748.4" r="0.55"/><circle cx="273.9" cy="721.8" r="0.76"/><circle cx="259.6" cy="798.5" r="0.83"/><circle cx="272.1" cy="768.9" r="1.04"/><circle cx="272.0" cy="831.8" r="1.09"/><circle cx="277.1" cy="845.2" r="1.11"/><circle cx="269.7" cy="925.5" r="0.89"/><circle cx="268.2" cy="813.5" r="0.59"/><circle cx="278.1" cy="850.4" r="0.82"/><circle cx="273.0" cy="703.9" r="0.89"/><circle cx="275.0" cy="918.0" r="0.86"/><circle cx="284.8" cy="926.6" r="0.75"/><circle cx="270.0" cy="878.3" r="1.01"/><circle cx="266.2" cy="780.7" r="0.71"/><circle cx="272.3" cy="904.0" r="0.87"/><circle cx="271.1" cy="865.1" r="1.14"/><circle cx="273.7" cy="796.3" r="0.62"/><circle cx="272.7" cy="681.8" r="0.95"/><circle cx="284.0" cy="883.1" r="0.80"/><circle cx="289.2" cy="837.9" r="0.69"/><circle cx="270.3" cy="942.6" r="1.15"/><circle cx="274.8" cy="812.0" r="0.68"/><circle cx="271.9" cy="790.9" r="0.96"/><circle cx="283.1" cy="817.3" r="0.95"/><circle cx="270.8" cy="732.0" r="0.67"/><circle cx="276.4" cy="790.4" r="0.91"/><circle cx="273.6" cy="888.5" r="0.91"/><circle cx="270.2" cy="718.3" r="0.87"/><circle cx="275.6" cy="704.1" r="0.84"/><circle cx="282.4" cy="818.6" r="0.91"/><circle cx="273.9" cy="839.6" r="0.67"/><circle cx="262.5" cy="792.6" r="0.69"/><circle cx="267.1" cy="831.6" r="0.67"/><circle cx="275.9" cy="783.8" r="0.77"/><circle cx="284.6" cy="775.7" r="0.92"/><circle cx="275.4" cy="752.3" r="0.78"/><circle cx="272.8" cy="910.9" r="1.04"/><circle cx="284.0" cy="805.3" r="0.61"/><circle cx="252.6" cy="917.1" r="0.82"/><circle cx="260.4" cy="802.3" r="0.53"/><circle cx="277.7" cy="880.8" r="0.86"/><circle cx="259.1" cy="847.6" r="0.76"/><circle cx="281.1" cy="791.2" r="0.55"/><circle cx="270.0" cy="735.9" r="0.76"/><circle cx="275.5" cy="763.5" r="1.00"/><circle cx="271.0" cy="765.2" r="0.93"/><circle cx="278.4" cy="764.3" r="0.78"/><circle cx="278.1" cy="853.8" r="0.52"/><circle cx="267.5" cy="719.3" r="0.73"/><circle cx="267.4" cy="743.3" r="0.62"/><circle cx="273.9" cy="895.3" r="1.10"/><circle cx="275.1" cy="717.6" r="0.56"/><circle cx="267.5" cy="731.5" r="0.68"/><circle cx="280.5" cy="806.8" r="0.85"/><circle cx="271.1" cy="866.4" r="1.09"/><circle cx="276.1" cy="773.6" r="0.71"/><circle cx="277.8" cy="821.7" r="0.97"/><circle cx="281.5" cy="826.5" r="0.82"/><circle cx="271.1" cy="794.7" r="1.05"/><circle cx="280.5" cy="828.4" r="0.61"/><circle cx="269.8" cy="753.9" r="0.85"/><circle cx="285.9" cy="858.3" r="0.52"/><circle cx="270.5" cy="838.7" r="0.73"/><circle cx="277.9" cy="768.3" r="0.88"/><circle cx="272.6" cy="772.6" r="0.76"/><circle cx="275.0" cy="699.0" r="0.79"/><circle cx="252.4" cy="866.4" r="0.62"/><circle cx="261.4" cy="770.8" r="0.61"/><circle cx="280.5" cy="859.2" r="0.58"/><circle cx="274.5" cy="921.8" r="0.88"/><circle cx="277.8" cy="807.2" r="0.83"/><circle cx="270.3" cy="895.2" r="0.98"/><circle cx="289.8" cy="898.7" r="0.57"/><circle cx="275.4" cy="859.8" r="0.82"/><circle cx="273.9" cy="706.5" r="0.90"/><circle cx="275.6" cy="829.0" r="0.78"/><circle cx="270.3" cy="834.9" r="0.74"/><circle cx="272.0" cy="762.7" r="0.99"/><circle cx="271.1" cy="869.6" r="0.79"/><circle cx="268.7" cy="802.7" r="0.88"/><circle cx="277.5" cy="771.7" r="0.68"/><circle cx="271.7" cy="829.9" r="1.04"/><circle cx="266.2" cy="822.3" r="0.75"/><circle cx="272.9" cy="699.6" r="0.97"/><circle cx="273.5" cy="684.9" r="0.68"/><circle cx="282.6" cy="784.6" r="0.63"/><circle cx="270.6" cy="866.0" r="1.04"/><circle cx="266.1" cy="774.8" r="0.81"/><circle cx="274.8" cy="799.8" r="1.13"/><circle cx="263.9" cy="875.7" r="0.88"/><circle cx="271.4" cy="712.9" r="0.81"/><circle cx="272.3" cy="762.7" r="1.10"/><circle cx="272.6" cy="798.0" r="0.93"/><circle cx="279.0" cy="907.9" r="0.67"/><circle cx="274.8" cy="733.8" r="0.51"/><circle cx="270.5" cy="748.8" r="0.80"/><circle cx="273.0" cy="831.6" r="0.76"/><circle cx="266.6" cy="875.7" r="0.52"/><circle cx="273.7" cy="804.2" r="0.70"/><circle cx="271.6" cy="810.6" r="1.14"/><circle cx="276.3" cy="702.0" r="0.66"/><circle cx="281.7" cy="770.6" r="0.65"/><circle cx="280.8" cy="757.9" r="0.93"/><circle cx="276.6" cy="743.0" r="0.75"/><circle cx="271.4" cy="773.9" r="1.11"/><circle cx="273.4" cy="775.8" r="0.96"/><circle cx="282.2" cy="770.3" r="0.54"/><circle cx="288.4" cy="802.1" r="0.74"/><circle cx="272.3" cy="749.2" r="1.14"/><circle cx="282.5" cy="835.6" r="0.58"/><circle cx="268.1" cy="788.5" r="0.69"/><circle cx="270.5" cy="720.3" r="0.84"/><circle cx="282.9" cy="842.5" r="0.61"/><circle cx="272.6" cy="730.3" r="0.98"/><circle cx="280.0" cy="763.4" r="0.71"/><circle cx="271.5" cy="716.8" r="1.04"/><circle cx="269.4" cy="723.1" r="0.78"/><circle cx="278.4" cy="862.9" r="0.84"/><circle cx="280.1" cy="806.1" r="0.81"/><circle cx="276.7" cy="845.5" r="0.90"/><circle cx="283.4" cy="830.4" r="0.60"/><circle cx="273.3" cy="728.6" r="0.77"/><circle cx="272.5" cy="807.2" r="0.95"/><circle cx="274.1" cy="852.2" r="1.07"/><circle cx="268.7" cy="773.0" r="0.85"/><circle cx="273.3" cy="762.4" r="0.88"/><circle cx="265.9" cy="782.5" r="0.95"/><circle cx="273.8" cy="710.8" r="0.87"/><circle cx="280.0" cy="760.1" r="0.51"/><circle cx="270.5" cy="768.1" r="0.53"/><circle cx="270.5" cy="904.6" r="1.00"/><circle cx="276.5" cy="898.0" r="0.61"/><circle cx="271.6" cy="789.5" r="1.04"/><circle cx="270.9" cy="886.2" r="1.14"/><circle cx="280.0" cy="812.9" r="0.73"/><circle cx="263.2" cy="891.0" r="0.82"/><circle cx="281.7" cy="835.1" r="0.76"/><circle cx="273.2" cy="692.1" r="0.63"/><circle cx="276.9" cy="847.3" r="1.00"/><circle cx="270.2" cy="735.5" r="0.57"/><circle cx="276.0" cy="746.1" r="0.53"/><circle cx="263.9" cy="757.0" r="0.76"/><circle cx="274.1" cy="853.6" r="1.03"/><circle cx="283.1" cy="775.5" r="0.56"/><circle cx="272.8" cy="702.2" r="0.96"/><circle cx="272.6" cy="707.7" r="0.74"/><circle cx="272.1" cy="780.1" r="0.60"/><circle cx="271.7" cy="744.9" r="0.80"/><circle cx="279.1" cy="763.3" r="0.88"/><circle cx="279.5" cy="882.6" r="0.91"/><circle cx="272.1" cy="801.7" r="1.05"/><circle cx="261.2" cy="926.7" r="0.55"/><circle cx="274.3" cy="762.0" r="0.97"/><circle cx="269.2" cy="851.0" r="0.61"/><circle cx="273.5" cy="930.7" r="1.02"/><circle cx="273.8" cy="719.5" r="0.87"/><circle cx="291.0" cy="835.4" r="0.61"/><circle cx="273.2" cy="779.9" r="0.67"/><circle cx="271.5" cy="750.0" r="0.79"/><circle cx="269.5" cy="886.7" r="0.73"/><circle cx="272.2" cy="712.3" r="0.79"/><circle cx="271.9" cy="695.3" r="0.51"/><circle cx="266.6" cy="843.1" r="0.85"/><circle cx="269.4" cy="739.2" r="0.93"/><circle cx="270.6" cy="783.9" r="0.90"/><circle cx="266.6" cy="888.9" r="0.60"/><circle cx="271.0" cy="895.1" r="0.99"/><circle cx="270.0" cy="810.9" r="1.14"/><circle cx="267.2" cy="746.0" r="0.72"/><circle cx="266.1" cy="772.9" r="0.64"/><circle cx="273.7" cy="690.3" r="0.84"/><circle cx="268.0" cy="770.3" r="0.56"/><circle cx="272.3" cy="771.3" r="1.01"/><circle cx="277.7" cy="812.0" r="0.59"/><circle cx="272.7" cy="776.2" r="0.81"/><circle cx="275.7" cy="854.9" r="0.62"/><circle cx="266.4" cy="837.6" r="0.84"/><circle cx="269.6" cy="777.6" r="0.80"/><circle cx="280.5" cy="734.1" r="0.72"/><circle cx="280.4" cy="898.4" r="0.87"/><circle cx="268.3" cy="807.7" r="0.57"/><circle cx="281.9" cy="813.0" r="0.76"/><circle cx="286.3" cy="918.6" r="0.72"/><circle cx="271.1" cy="805.0" r="1.00"/><circle cx="277.0" cy="841.2" r="0.73"/><circle cx="269.7" cy="837.8" r="0.86"/><circle cx="284.6" cy="824.8" r="0.92"/><circle cx="263.4" cy="953.7" r="0.67"/><circle cx="271.2" cy="799.6" r="0.68"/><circle cx="272.2" cy="953.6" r="1.01"/><circle cx="271.5" cy="735.5" r="0.65"/><circle cx="263.3" cy="876.4" r="0.54"/><circle cx="272.6" cy="837.0" r="0.78"/><circle cx="274.5" cy="704.7" r="0.79"/><circle cx="274.1" cy="919.0" r="1.04"/><circle cx="285.2" cy="889.5" r="0.55"/><circle cx="272.1" cy="732.2" r="0.94"/><circle cx="271.3" cy="845.2" r="0.93"/><circle cx="276.3" cy="819.0" r="0.64"/><circle cx="275.9" cy="700.8" r="0.86"/><circle cx="285.6" cy="827.4" r="0.61"/><circle cx="270.8" cy="776.1" r="0.92"/><circle cx="274.1" cy="762.5" r="0.88"/><circle cx="273.5" cy="760.5" r="1.05"/><circle cx="271.1" cy="804.6" r="0.88"/><circle cx="280.8" cy="823.4" r="0.84"/><circle cx="273.4" cy="813.9" r="1.10"/><circle cx="285.6" cy="865.6" r="0.70"/><circle cx="263.1" cy="866.7" r="0.81"/><circle cx="285.6" cy="838.6" r="0.60"/><circle cx="270.1" cy="743.9" r="0.92"/><circle cx="265.0" cy="805.0" r="0.63"/><circle cx="270.2" cy="810.5" r="0.94"/><circle cx="278.3" cy="816.7" r="0.92"/><circle cx="286.6" cy="889.6" r="0.77"/><circle cx="274.4" cy="857.9" r="0.62"/><circle cx="270.1" cy="800.1" r="0.67"/><circle cx="272.6" cy="903.4" r="0.68"/><circle cx="269.3" cy="722.3" r="0.57"/><circle cx="266.4" cy="803.6" r="0.91"/><circle cx="264.9" cy="891.2" r="0.89"/><circle cx="272.1" cy="811.7" r="1.14"/><circle cx="268.9" cy="811.9" r="0.80"/><circle cx="271.3" cy="874.4" r="0.99"/><circle cx="276.5" cy="735.8" r="0.72"/><circle cx="267.8" cy="859.5" r="0.75"/><circle cx="295.8" cy="892.3" r="0.54"/><circle cx="271.4" cy="893.8" r="0.87"/><circle cx="261.7" cy="861.4" r="0.58"/><circle cx="266.7" cy="870.3" r="0.76"/><circle cx="288.8" cy="817.2" r="0.72"/><circle cx="277.7" cy="780.6" r="0.52"/><circle cx="272.7" cy="858.3" r="1.07"/><circle cx="271.0" cy="857.5" r="1.06"/><circle cx="266.5" cy="911.8" r="0.68"/><circle cx="279.2" cy="774.1" r="0.72"/><circle cx="263.8" cy="867.7" r="0.72"/><circle cx="271.8" cy="744.5" r="1.12"/><circle cx="270.7" cy="749.7" r="0.55"/><circle cx="274.2" cy="889.6" r="0.75"/><circle cx="280.1" cy="938.3" r="0.53"/><circle cx="261.7" cy="782.0" r="0.77"/><circle cx="274.4" cy="691.4" r="0.71"/><circle cx="266.2" cy="852.9" r="0.75"/><circle cx="275.0" cy="882.8" r="1.05"/><circle cx="252.7" cy="876.4" r="0.87"/><circle cx="268.0" cy="862.6" r="1.07"/><circle cx="280.7" cy="895.1" r="0.95"/><circle cx="273.2" cy="687.0" r="1.12"/><circle cx="275.1" cy="773.3" r="1.07"/><circle cx="265.8" cy="823.5" r="0.93"/><circle cx="276.2" cy="749.9" r="0.86"/><circle cx="268.4" cy="710.6" r="0.69"/><circle cx="272.3" cy="712.1" r="0.83"/><circle cx="267.2" cy="887.6" r="0.73"/><circle cx="273.5" cy="724.8" r="0.75"/><circle cx="281.6" cy="771.2" r="0.66"/><circle cx="274.0" cy="794.7" r="0.89"/><circle cx="268.3" cy="750.9" r="0.63"/><circle cx="278.0" cy="801.5" r="0.82"/><circle cx="275.6" cy="857.9" r="0.68"/><circle cx="272.7" cy="722.9" r="0.96"/><circle cx="274.2" cy="768.2" r="0.70"/><circle cx="280.6" cy="836.6" r="0.86"/><circle cx="263.2" cy="864.6" r="0.70"/><circle cx="262.6" cy="854.0" r="0.85"/><circle cx="272.4" cy="777.1" r="0.67"/><circle cx="276.9" cy="867.9" r="0.93"/><circle cx="269.4" cy="847.3" r="0.84"/><circle cx="266.2" cy="792.3" r="0.55"/><circle cx="271.7" cy="836.1" r="1.06"/><circle cx="283.3" cy="829.8" r="0.74"/><circle cx="278.5" cy="905.6" r="0.70"/><circle cx="273.0" cy="679.2" r="0.66"/><circle cx="264.7" cy="782.7" r="0.69"/><circle cx="281.7" cy="815.6" r="0.66"/><circle cx="270.3" cy="751.9" r="0.92"/><circle cx="273.6" cy="843.7" r="1.00"/><circle cx="289.4" cy="860.1" r="0.72"/><circle cx="274.0" cy="917.1" r="1.06"/><circle cx="270.3" cy="807.1" r="0.92"/><circle cx="273.3" cy="866.7" r="1.09"/><circle cx="293.6" cy="842.8" r="0.93"/><circle cx="266.0" cy="767.4" r="0.81"/><circle cx="274.9" cy="800.9" r="0.90"/><circle cx="260.4" cy="921.6" r="0.51"/><circle cx="274.1" cy="803.8" r="1.09"/><circle cx="271.2" cy="734.8" r="1.01"/><circle cx="263.9" cy="865.2" r="0.93"/><circle cx="268.2" cy="816.2" r="0.71"/><circle cx="279.1" cy="788.6" r="0.92"/><circle cx="278.9" cy="771.8" r="0.54"/><circle cx="271.9" cy="919.4" r="0.86"/><circle cx="257.5" cy="917.2" r="0.65"/><circle cx="267.7" cy="818.1" r="0.89"/><circle cx="273.4" cy="782.9" r="0.72"/><circle cx="265.8" cy="809.1" r="0.72"/><circle cx="279.8" cy="753.0" r="0.93"/><circle cx="272.7" cy="729.5" r="1.07"/><circle cx="278.8" cy="819.0" r="0.62"/><circle cx="268.0" cy="817.2" r="0.70"/><circle cx="280.6" cy="737.2" r="0.55"/><circle cx="283.1" cy="819.7" r="0.64"/><circle cx="274.0" cy="722.7" r="0.82"/><circle cx="268.3" cy="903.4" r="0.71"/><circle cx="276.2" cy="750.0" r="0.81"/><circle cx="270.4" cy="806.6" r="1.06"/><circle cx="270.8" cy="716.4" r="0.88"/><circle cx="277.1" cy="944.2" r="0.62"/><circle cx="272.9" cy="889.5" r="1.01"/><circle cx="275.0" cy="805.7" r="1.01"/><circle cx="287.9" cy="912.9" r="0.75"/><circle cx="265.7" cy="821.7" r="0.64"/><circle cx="269.9" cy="733.4" r="0.85"/><circle cx="269.3" cy="816.2" r="0.61"/><circle cx="270.3" cy="870.5" r="0.68"/><circle cx="268.2" cy="756.6" r="0.51"/><circle cx="269.9" cy="852.0" r="0.86"/><circle cx="266.2" cy="807.3" r="0.53"/><circle cx="268.8" cy="816.9" r="0.59"/><circle cx="270.4" cy="774.7" r="1.00"/><circle cx="273.0" cy="851.7" r="0.89"/><circle cx="269.4" cy="812.6" r="0.78"/><circle cx="288.8" cy="924.0" r="0.88"/><circle cx="282.7" cy="867.7" r="0.95"/><circle cx="264.9" cy="785.3" r="0.73"/><circle cx="276.2" cy="732.1" r="0.81"/><circle cx="259.9" cy="868.3" r="0.76"/><circle cx="253.4" cy="861.9" r="0.59"/><circle cx="279.2" cy="804.6" r="0.61"/><circle cx="278.1" cy="907.3" r="1.08"/><circle cx="262.3" cy="777.1" r="0.93"/><circle cx="275.2" cy="826.8" r="0.75"/><circle cx="272.0" cy="865.4" r="0.99"/><circle cx="283.1" cy="761.6" r="0.85"/><circle cx="281.6" cy="837.3" r="0.65"/><circle cx="272.7" cy="706.8" r="0.67"/><circle cx="267.9" cy="739.3" r="0.51"/><circle cx="250.0" cy="898.9" r="0.78"/><circle cx="270.4" cy="759.3" r="0.64"/><circle cx="283.7" cy="868.5" r="0.73"/><circle cx="271.8" cy="914.7" r="0.93"/><circle cx="265.7" cy="863.8" r="0.77"/><circle cx="272.3" cy="784.3" r="0.90"/><circle cx="275.3" cy="751.3" r="1.07"/><circle cx="275.0" cy="934.8" r="0.80"/><circle cx="274.6" cy="757.5" r="0.61"/><circle cx="278.5" cy="743.0" r="0.81"/><circle cx="271.8" cy="714.5" r="0.67"/><circle cx="274.7" cy="923.2" r="1.04"/><circle cx="274.4" cy="693.4" r="0.91"/><circle cx="272.7" cy="887.2" r="0.65"/><circle cx="264.0" cy="856.1" r="0.60"/><circle cx="263.1" cy="807.3" r="0.89"/><circle cx="284.7" cy="849.0" r="0.73"/><circle cx="262.8" cy="840.1" r="0.84"/><circle cx="268.7" cy="823.5" r="0.50"/><circle cx="272.4" cy="877.2" r="0.88"/><circle cx="263.1" cy="838.0" r="0.81"/><circle cx="273.7" cy="704.4" r="0.77"/><circle cx="267.7" cy="772.0" r="0.83"/><circle cx="274.1" cy="778.1" r="0.68"/><circle cx="268.7" cy="770.9" r="0.83"/><circle cx="273.9" cy="890.7" r="0.71"/><circle cx="274.2" cy="768.0" r="0.86"/><circle cx="269.1" cy="788.4" r="0.61"/><circle cx="263.2" cy="858.1" r="0.52"/><circle cx="277.0" cy="751.6" r="0.77"/><circle cx="273.6" cy="885.8" r="0.73"/><circle cx="274.9" cy="693.4" r="0.86"/><circle cx="277.6" cy="715.9" r="0.67"/><circle cx="276.7" cy="902.0" r="1.04"/><circle cx="267.3" cy="766.9" r="0.54"/><circle cx="273.6" cy="878.3" r="0.75"/><circle cx="267.3" cy="872.5" r="1.00"/><circle cx="268.8" cy="726.8" r="0.50"/><circle cx="266.0" cy="774.1" r="0.79"/><circle cx="272.1" cy="818.5" r="0.90"/><circle cx="271.5" cy="789.2" r="0.82"/><circle cx="272.3" cy="733.7" r="0.85"/><circle cx="255.7" cy="913.5" r="0.73"/><circle cx="280.1" cy="781.5" r="0.79"/><circle cx="271.7" cy="769.6" r="0.91"/><circle cx="265.9" cy="786.5" r="0.76"/><circle cx="262.8" cy="886.8" r="0.95"/><circle cx="275.2" cy="837.3" r="0.99"/><circle cx="275.3" cy="743.4" r="1.02"/><circle cx="263.6" cy="823.8" r="0.89"/><circle cx="280.4" cy="899.0" r="0.90"/><circle cx="272.8" cy="730.2" r="0.99"/><circle cx="281.6" cy="859.4" r="0.69"/><circle cx="273.2" cy="676.6" r="0.76"/><circle cx="270.6" cy="821.5" r="0.62"/><circle cx="265.3" cy="786.6" r="0.95"/><circle cx="273.5" cy="683.8" r="0.64"/><circle cx="267.2" cy="894.0" r="0.94"/><circle cx="272.6" cy="743.9" r="0.89"/><circle cx="277.6" cy="779.0" r="0.94"/><circle cx="275.2" cy="785.0" r="0.84"/><circle cx="274.7" cy="779.8" r="0.61"/><circle cx="276.2" cy="725.5" r="0.66"/><circle cx="276.2" cy="882.6" r="1.12"/><circle cx="271.7" cy="713.0" r="0.89"/><circle cx="264.3" cy="863.8" r="0.56"/><circle cx="274.2" cy="691.5" r="0.58"/><circle cx="273.0" cy="874.8" r="0.77"/><circle cx="284.1" cy="908.6" r="0.79"/><circle cx="268.2" cy="821.5" r="0.59"/><circle cx="271.5" cy="828.1" r="0.70"/><circle cx="273.0" cy="735.8" r="0.95"/><circle cx="269.6" cy="936.5" r="0.87"/><circle cx="262.7" cy="791.4" r="0.66"/><circle cx="281.9" cy="820.7" r="0.88"/><circle cx="273.2" cy="811.7" r="1.06"/><circle cx="275.4" cy="703.9" r="0.70"/><circle cx="272.1" cy="786.9" r="0.66"/><circle cx="273.8" cy="709.9" r="0.86"/><circle cx="277.9" cy="766.8" r="0.64"/><circle cx="273.4" cy="914.3" r="0.97"/><circle cx="268.5" cy="902.1" r="0.55"/><circle cx="274.6" cy="835.6" r="0.76"/><circle cx="295.6" cy="887.2" r="0.59"/><circle cx="270.7" cy="743.2" r="0.78"/><circle cx="274.9" cy="841.4" r="0.77"/><circle cx="263.1" cy="794.3" r="0.80"/><circle cx="289.0" cy="901.3" r="0.53"/><circle cx="285.8" cy="841.6" r="0.54"/><circle cx="281.1" cy="884.0" r="0.62"/><circle cx="278.3" cy="800.0" r="0.66"/><circle cx="274.7" cy="755.8" r="0.98"/><circle cx="275.6" cy="893.6" r="1.15"/><circle cx="273.9" cy="877.1" r="0.68"/><circle cx="265.6" cy="749.0" r="0.74"/><circle cx="285.4" cy="821.8" r="0.82"/><circle cx="275.9" cy="870.2" r="1.07"/><circle cx="275.6" cy="820.7" r="0.89"/><circle cx="270.1" cy="816.4" r="0.88"/><circle cx="277.9" cy="762.0" r="0.84"/><circle cx="264.4" cy="895.4" r="0.82"/><circle cx="271.9" cy="768.5" r="1.00"/><circle cx="276.9" cy="779.9" r="0.74"/><circle cx="271.7" cy="747.7" r="0.68"/><circle cx="283.1" cy="857.9" r="0.83"/><circle cx="270.3" cy="788.8" r="0.81"/><circle cx="285.9" cy="834.6" r="0.71"/><circle cx="273.0" cy="767.1" r="0.70"/><circle cx="262.4" cy="809.7" r="0.73"/><circle cx="268.5" cy="809.3" r="0.92"/><circle cx="274.3" cy="771.3" r="0.60"/><circle cx="282.3" cy="800.9" r="0.67"/><circle cx="269.0" cy="850.6" r="0.76"/><circle cx="269.6" cy="734.8" r="0.80"/><circle cx="273.8" cy="925.0" r="0.61"/><circle cx="274.5" cy="702.3" r="0.66"/><circle cx="279.3" cy="855.2" r="0.77"/><circle cx="275.6" cy="710.4" r="0.84"/><circle cx="267.2" cy="898.9" r="0.50"/><circle cx="263.8" cy="848.7" r="0.94"/><circle cx="282.2" cy="775.1" r="0.95"/><circle cx="267.3" cy="793.1" r="0.94"/><circle cx="281.1" cy="785.3" r="0.86"/><circle cx="284.8" cy="823.1" r="0.66"/><circle cx="271.9" cy="863.8" r="0.65"/><circle cx="275.8" cy="807.6" r="0.86"/><circle cx="264.7" cy="809.5" r="0.83"/><circle cx="268.2" cy="766.4" r="0.67"/><circle cx="283.1" cy="894.0" r="0.66"/><circle cx="279.9" cy="794.8" r="0.92"/><circle cx="276.3" cy="886.9" r="0.66"/><circle cx="263.8" cy="877.7" r="0.66"/><circle cx="273.4" cy="811.0" r="1.14"/><circle cx="266.1" cy="892.1" r="0.83"/><circle cx="271.0" cy="756.6" r="0.67"/><circle cx="278.8" cy="750.7" r="0.79"/><circle cx="267.2" cy="782.5" r="0.87"/><circle cx="269.3" cy="774.5" r="0.69"/><circle cx="278.2" cy="914.2" r="0.95"/><circle cx="273.4" cy="855.0" r="0.81"/><circle cx="257.7" cy="813.8" r="0.61"/><circle cx="272.0" cy="798.8" r="0.80"/><circle cx="274.6" cy="835.7" r="0.90"/><circle cx="273.9" cy="763.6" r="1.01"/><circle cx="266.6" cy="885.9" r="0.51"/><circle cx="254.8" cy="837.1" r="0.50"/><circle cx="267.1" cy="788.7" r="0.87"/><circle cx="276.8" cy="759.4" r="0.75"/><circle cx="272.4" cy="719.5" r="0.81"/><circle cx="268.9" cy="854.3" r="0.62"/><circle cx="271.6" cy="708.6" r="0.80"/><circle cx="269.7" cy="868.9" r="0.65"/><circle cx="274.3" cy="771.3" r="1.10"/><circle cx="267.6" cy="838.2" r="0.68"/><circle cx="265.1" cy="911.0" r="0.68"/><circle cx="270.5" cy="769.2" r="0.66"/><circle cx="277.8" cy="897.4" r="0.86"/><circle cx="274.8" cy="751.8" r="0.87"/><circle cx="268.0" cy="865.2" r="0.73"/><circle cx="282.4" cy="757.3" r="0.86"/><circle cx="263.7" cy="783.4" r="0.59"/><circle cx="281.7" cy="756.8" r="0.73"/><circle cx="277.8" cy="884.3" r="0.74"/><circle cx="286.8" cy="842.2" r="0.72"/><circle cx="269.3" cy="774.1" r="0.75"/><circle cx="284.5" cy="892.6" r="0.71"/><circle cx="281.7" cy="898.0" r="0.94"/><circle cx="259.7" cy="824.5" r="0.82"/><circle cx="278.5" cy="905.7" r="0.88"/><circle cx="290.1" cy="826.5" r="0.70"/><circle cx="272.9" cy="933.3" r="0.78"/><circle cx="273.8" cy="733.2" r="0.90"/><circle cx="275.4" cy="801.1" r="0.61"/><circle cx="276.9" cy="822.1" r="0.68"/><circle cx="272.7" cy="785.4" r="0.85"/><circle cx="277.8" cy="887.9" r="1.00"/><circle cx="270.0" cy="779.4" r="0.62"/><circle cx="274.7" cy="728.8" r="0.66"/><circle cx="268.9" cy="795.0" r="0.80"/><circle cx="275.5" cy="747.8" r="1.03"/><circle cx="271.0" cy="841.5" r="1.06"/><circle cx="265.0" cy="858.7" r="0.59"/><circle cx="270.8" cy="697.4" r="0.74"/><circle cx="277.0" cy="881.4" r="0.93"/><circle cx="279.3" cy="763.5" r="0.80"/><circle cx="276.5" cy="861.9" r="0.64"/><circle cx="282.8" cy="809.9" r="0.92"/><circle cx="273.1" cy="682.6" r="0.95"/><circle cx="271.2" cy="769.9" r="1.05"/><circle cx="270.7" cy="845.0" r="1.10"/><circle cx="273.0" cy="683.1" r="1.01"/><circle cx="267.6" cy="867.7" r="1.10"/><circle cx="283.4" cy="806.3" r="0.54"/><circle cx="269.0" cy="777.3" r="0.66"/><circle cx="274.1" cy="718.0" r="0.54"/><circle cx="280.1" cy="879.3" r="0.92"/><circle cx="262.8" cy="855.3" r="0.78"/><circle cx="269.2" cy="723.3" r="0.88"/><circle cx="262.3" cy="848.0" r="0.52"/><circle cx="286.3" cy="807.7" r="0.69"/><circle cx="270.2" cy="754.0" r="0.52"/><circle cx="273.1" cy="888.8" r="0.77"/><circle cx="277.4" cy="820.1" r="0.88"/><circle cx="283.0" cy="833.4" r="0.56"/><circle cx="280.2" cy="929.0" r="0.52"/><circle cx="280.2" cy="829.9" r="0.67"/><circle cx="276.6" cy="870.1" r="0.85"/><circle cx="274.7" cy="770.5" r="0.98"/><circle cx="272.2" cy="802.9" r="1.06"/><circle cx="273.2" cy="761.3" r="0.68"/><circle cx="269.3" cy="760.3" r="0.76"/><circle cx="264.2" cy="895.2" r="0.86"/><circle cx="273.5" cy="732.4" r="0.68"/><circle cx="275.6" cy="719.2" r="0.78"/><circle cx="274.1" cy="784.0" r="0.90"/><circle cx="270.9" cy="866.8" r="0.69"/><circle cx="274.1" cy="914.8" r="0.93"/><circle cx="280.1" cy="778.7" r="0.93"/><circle cx="268.1" cy="750.1" r="0.74"/><circle cx="282.2" cy="913.5" r="0.77"/><circle cx="265.3" cy="787.2" r="0.68"/><circle cx="269.3" cy="876.1" r="0.65"/><circle cx="258.6" cy="786.6" r="0.51"/><circle cx="272.4" cy="793.4" r="0.76"/><circle cx="273.8" cy="743.9" r="0.83"/><circle cx="267.0" cy="874.1" r="0.61"/><circle cx="277.8" cy="793.6" r="0.73"/><circle cx="265.3" cy="834.2" r="0.66"/><circle cx="281.7" cy="827.0" r="0.78"/><circle cx="274.4" cy="687.3" r="0.84"/><circle cx="266.0" cy="782.2" r="0.81"/><circle cx="270.1" cy="716.3" r="0.71"/><circle cx="258.1" cy="896.8" r="0.79"/><circle cx="273.1" cy="764.8" r="0.75"/><circle cx="278.1" cy="810.8" r="0.51"/><circle cx="268.6" cy="953.1" r="0.52"/><circle cx="277.7" cy="920.9" r="0.76"/><circle cx="270.5" cy="748.1" r="0.58"/><circle cx="273.6" cy="700.6" r="0.75"/><circle cx="275.0" cy="775.0" r="0.92"/><circle cx="269.5" cy="849.8" r="0.80"/><circle cx="280.5" cy="782.5" r="0.81"/><circle cx="275.3" cy="916.5" r="0.89"/><circle cx="269.6" cy="769.6" r="0.92"/><circle cx="277.1" cy="766.4" r="0.66"/><circle cx="266.0" cy="865.9" r="0.91"/><circle cx="272.3" cy="833.2" r="0.90"/><circle cx="278.9" cy="848.1" r="0.79"/><circle cx="268.4" cy="757.5" r="0.74"/><circle cx="285.4" cy="795.2" r="0.87"/><circle cx="278.7" cy="841.3" r="0.86"/><circle cx="269.9" cy="742.2" r="0.90"/><circle cx="278.5" cy="788.3" r="0.51"/><circle cx="271.8" cy="797.1" r="1.09"/><circle cx="272.8" cy="806.3" r="0.72"/><circle cx="275.8" cy="856.0" r="0.76"/><circle cx="273.2" cy="699.6" r="0.72"/><circle cx="277.9" cy="843.9" r="0.66"/><circle cx="264.9" cy="812.8" r="0.58"/><circle cx="257.3" cy="858.3" r="0.56"/><circle cx="281.6" cy="815.6" r="0.74"/><circle cx="273.2" cy="765.2" r="0.93"/><circle cx="269.6" cy="821.0" r="0.55"/><circle cx="270.3" cy="921.3" r="0.99"/><circle cx="264.9" cy="871.1" r="0.93"/><circle cx="270.7" cy="796.2" r="1.09"/><circle cx="271.0" cy="765.7" r="0.57"/><circle cx="275.0" cy="739.3" r="0.83"/><circle cx="283.1" cy="867.6" r="0.52"/><circle cx="271.2" cy="837.9" r="1.11"/><circle cx="268.7" cy="753.7" r="0.82"/><circle cx="281.0" cy="817.4" r="0.56"/><circle cx="268.2" cy="795.7" r="0.87"/><circle cx="274.7" cy="811.2" r="1.13"/><circle cx="269.6" cy="731.1" r="0.87"/><circle cx="270.9" cy="748.9" r="0.87"/><circle cx="272.6" cy="715.8" r="0.84"/><circle cx="269.4" cy="866.6" r="0.82"/><circle cx="275.9" cy="886.4" r="0.70"/><circle cx="265.0" cy="856.0" r="0.87"/><circle cx="273.4" cy="790.5" r="1.08"/><circle cx="278.7" cy="755.5" r="0.74"/><circle cx="270.4" cy="856.7" r="0.95"/><circle cx="261.2" cy="791.4" r="0.76"/><circle cx="267.9" cy="870.8" r="0.68"/><circle cx="282.8" cy="774.7" r="0.74"/><circle cx="274.1" cy="808.3" r="0.64"/><circle cx="274.4" cy="769.0" r="1.00"/><circle cx="265.2" cy="817.9" r="0.72"/><circle cx="263.7" cy="833.6" r="0.55"/><circle cx="274.6" cy="751.2" r="1.06"/><circle cx="272.3" cy="820.8" r="0.77"/><circle cx="272.5" cy="721.3" r="0.82"/><circle cx="281.0" cy="775.9" r="0.57"/><circle cx="273.8" cy="845.5" r="0.68"/><circle cx="286.4" cy="847.0" r="0.81"/><circle cx="273.8" cy="769.2" r="0.68"/><circle cx="279.0" cy="787.5" r="0.62"/><circle cx="288.0" cy="807.8" r="0.66"/><circle cx="273.7" cy="776.6" r="0.68"/><circle cx="276.9" cy="788.6" r="0.91"/><circle cx="266.4" cy="736.5" r="0.56"/><circle cx="260.7" cy="857.4" r="0.60"/><circle cx="283.5" cy="845.1" r="0.56"/><circle cx="278.8" cy="893.4" r="0.84"/><circle cx="260.3" cy="800.6" r="0.56"/><circle cx="265.4" cy="870.5" r="0.62"/><circle cx="268.9" cy="794.7" r="1.08"/><circle cx="274.2" cy="714.4" r="0.85"/><circle cx="278.5" cy="791.5" r="0.54"/><circle cx="273.6" cy="710.5" r="0.73"/><circle cx="268.0" cy="828.4" r="0.62"/><circle cx="276.2" cy="852.3" r="0.83"/><circle cx="265.0" cy="755.0" r="0.82"/><circle cx="274.6" cy="831.1" r="1.10"/><circle cx="282.4" cy="771.3" r="0.60"/><circle cx="268.9" cy="804.0" r="0.90"/><circle cx="262.9" cy="789.3" r="0.78"/><circle cx="271.5" cy="892.2" r="1.08"/><circle cx="260.6" cy="795.1" r="0.86"/><circle cx="273.5" cy="737.2" r="1.00"/><circle cx="259.0" cy="833.0" r="0.60"/><circle cx="271.3" cy="945.3" r="0.68"/><circle cx="256.3" cy="841.2" r="0.59"/><circle cx="265.6" cy="771.2" r="0.68"/><circle cx="268.4" cy="869.3" r="0.74"/><circle cx="268.4" cy="775.1" r="0.75"/><circle cx="266.3" cy="858.8" r="0.52"/><circle cx="270.9" cy="695.2" r="0.64"/><circle cx="278.0" cy="930.7" r="0.77"/><circle cx="259.3" cy="782.8" r="0.70"/><circle cx="264.7" cy="799.0" r="0.62"/><circle cx="278.6" cy="834.2" r="0.87"/><circle cx="271.6" cy="796.8" r="1.10"/><circle cx="276.0" cy="752.4" r="0.71"/><circle cx="280.5" cy="834.4" r="0.60"/><circle cx="273.7" cy="830.5" r="0.86"/><circle cx="276.1" cy="848.2" r="1.13"/><circle cx="290.5" cy="826.5" r="0.85"/><circle cx="268.7" cy="718.4" r="0.95"/><circle cx="276.0" cy="766.7" r="0.81"/><circle cx="260.8" cy="922.5" r="0.88"/><circle cx="273.3" cy="764.2" r="1.12"/><circle cx="272.8" cy="767.5" r="0.97"/><circle cx="262.8" cy="780.8" r="0.66"/><circle cx="270.5" cy="737.0" r="0.63"/><circle cx="273.6" cy="755.7" r="0.83"/><circle cx="259.3" cy="828.2" r="0.74"/><circle cx="269.8" cy="817.6" r="0.58"/><circle cx="272.0" cy="731.3" r="0.83"/><circle cx="276.5" cy="835.0" r="1.02"/><circle cx="260.3" cy="800.1" r="0.81"/><circle cx="277.0" cy="776.7" r="0.52"/><circle cx="275.2" cy="794.7" r="0.64"/><circle cx="275.1" cy="698.6" r="0.68"/><circle cx="272.4" cy="690.7" r="0.60"/><circle cx="254.7" cy="847.5" r="0.50"/><circle cx="274.4" cy="752.8" r="0.94"/><circle cx="266.1" cy="795.0" r="0.92"/><circle cx="267.9" cy="822.4" r="0.80"/><circle cx="267.7" cy="808.9" r="0.95"/><circle cx="268.8" cy="757.9" r="0.94"/><circle cx="270.1" cy="757.6" r="0.69"/><circle cx="275.8" cy="743.7" r="0.76"/><circle cx="272.6" cy="874.5" r="0.86"/><circle cx="273.5" cy="864.4" r="0.92"/><circle cx="283.3" cy="844.3" r="0.92"/><circle cx="275.4" cy="873.3" r="0.74"/><circle cx="280.0" cy="890.2" r="0.82"/><circle cx="277.9" cy="892.0" r="1.09"/><circle cx="275.5" cy="782.2" r="0.82"/><circle cx="285.8" cy="783.7" r="0.74"/><circle cx="275.4" cy="746.0" r="0.91"/><circle cx="267.8" cy="861.6" r="0.83"/><circle cx="276.7" cy="732.5" r="0.89"/><circle cx="256.9" cy="862.1" r="0.56"/><circle cx="275.5" cy="851.2" r="1.10"/><circle cx="269.6" cy="780.3" r="1.12"/><circle cx="281.3" cy="899.6" r="0.66"/><circle cx="271.7" cy="868.9" r="0.66"/><circle cx="276.2" cy="797.1" r="0.56"/><circle cx="269.4" cy="739.7" r="0.61"/><circle cx="283.9" cy="894.3" r="0.72"/><circle cx="272.1" cy="735.7" r="0.73"/><circle cx="271.2" cy="798.8" r="0.89"/><circle cx="273.1" cy="769.6" r="0.84"/><circle cx="262.8" cy="948.3" r="0.92"/><circle cx="271.6" cy="800.3" r="0.92"/><circle cx="271.3" cy="767.6" r="0.75"/><circle cx="278.0" cy="756.0" r="0.77"/><circle cx="284.5" cy="803.6" r="0.76"/><circle cx="277.1" cy="752.2" r="0.93"/><circle cx="258.7" cy="867.6" r="0.68"/><circle cx="282.3" cy="780.5" r="0.69"/><circle cx="274.8" cy="783.6" r="0.72"/><circle cx="271.4" cy="860.1" r="0.92"/><circle cx="281.7" cy="772.1" r="0.78"/><circle cx="275.8" cy="768.3" r="1.09"/><circle cx="276.2" cy="803.4" r="0.60"/><circle cx="275.8" cy="805.6" r="0.82"/><circle cx="264.1" cy="780.7" r="0.59"/><circle cx="277.7" cy="868.8" r="0.70"/><circle cx="277.7" cy="877.7" r="0.82"/><circle cx="267.2" cy="734.9" r="0.55"/><circle cx="274.7" cy="807.2" r="0.93"/><circle cx="274.8" cy="769.2" r="0.81"/><circle cx="272.1" cy="692.7" r="0.78"/><circle cx="292.2" cy="902.4" r="0.66"/><circle cx="271.7" cy="825.3" r="0.78"/><circle cx="266.4" cy="775.5" r="0.75"/><circle cx="275.1" cy="754.8" r="0.89"/><circle cx="261.0" cy="872.3" r="0.69"/><circle cx="272.1" cy="870.3" r="0.82"/><circle cx="276.5" cy="768.7" r="0.63"/><circle cx="257.1" cy="832.6" r="0.56"/><circle cx="290.7" cy="881.3" r="0.91"/><circle cx="273.3" cy="745.4" r="1.05"/><circle cx="274.2" cy="685.5" r="0.70"/><circle cx="266.5" cy="781.0" r="0.64"/><circle cx="272.2" cy="735.4" r="1.08"/><circle cx="276.1" cy="779.1" r="0.87"/><circle cx="287.8" cy="865.3" r="0.88"/><circle cx="270.5" cy="764.9" r="0.79"/><circle cx="284.7" cy="871.0" r="0.88"/><circle cx="267.0" cy="931.5" r="1.04"/><circle cx="263.5" cy="797.0" r="0.60"/><circle cx="263.4" cy="822.2" r="0.64"/><circle cx="281.0" cy="753.3" r="0.67"/><circle cx="262.8" cy="861.8" r="0.53"/><circle cx="273.6" cy="777.1" r="1.07"/><circle cx="272.7" cy="723.6" r="0.65"/><circle cx="271.7" cy="692.8" r="0.63"/><circle cx="268.6" cy="818.4" r="0.76"/><circle cx="273.6" cy="730.3" r="0.75"/><circle cx="279.2" cy="801.1" r="0.66"/><circle cx="276.1" cy="753.0" r="1.01"/><circle cx="274.0" cy="763.0" r="0.75"/><circle cx="269.9" cy="877.0" r="0.60"/><circle cx="278.8" cy="862.8" r="0.92"/><circle cx="269.1" cy="794.9" r="0.88"/><circle cx="272.0" cy="816.6" r="1.02"/><circle cx="279.8" cy="746.9" r="0.83"/><circle cx="268.8" cy="844.7" r="1.08"/></g><path d="M273.1,676.0 C271.7,686.7 267.0,721.4 264.6,740.0 C262.2,758.6 260.6,771.9 258.6,787.9 C256.6,803.9 254.4,819.8 252.6,835.7 C250.8,851.7 248.9,872.1 247.9,883.6 C246.9,895.1 246.9,898.1 246.8,905.0 C246.7,911.9 246.7,919.0 247.3,925.0 C247.9,931.0 248.6,936.4 250.2,941.0 C251.8,945.6 254.6,949.7 257.0,952.5 C259.4,955.3 261.8,956.8 264.5,958.0 C267.2,959.2 271.6,959.2 273.0,959.5 M273.1,676.0 C274.5,686.7 279.0,721.4 281.4,740.0 C283.8,758.6 285.3,771.9 287.3,787.9 C289.3,803.9 291.5,819.8 293.3,835.7 C295.1,851.7 297.1,872.1 298.1,883.6 C299.1,895.1 299.1,898.1 299.2,905.0 C299.3,911.9 299.3,919.0 298.7,925.0 C298.1,931.0 297.4,936.4 295.8,941.0 C294.2,945.6 291.4,949.7 289.0,952.5 C286.6,955.3 284.2,956.8 281.5,958.0 C278.8,959.2 274.4,959.2 273.0,959.5" fill="none" stroke="#2d2d2e" stroke-width="2.3" stroke-dasharray="5.5 2.6"/><path d="M273,912 V980.5" stroke="#231f20" stroke-width="1.3" stroke-dasharray="6 2.2"/><path d="M273.1,668.7 L258.2,747 H285.2 Z" fill="none" stroke="#231f20" stroke-width="1.3" stroke-linejoin="miter"/><path d="M268.5,653 C268,659 269.5,663.5 273.1,664 C276.7,663.5 278.2,659 277.7,653 C277.5,651.5 268.7,651.5 268.5,653 Z" fill="#fff" stroke="#231f20" stroke-width="1.1"/><path d="M273.1,647.5 V669" stroke="#231f20" stroke-width="1"/><path d="M64.4,666.2 H266.5 M161.1,725.3 H258.3 M163.3,880.3 H222.5 M64.4,977.7 H267.5" stroke="#231f20" stroke-width="1.1" fill="none"/><path d="M98.8,666.7 V787.8 M98.8,853.1 V977.2 " stroke="#231f20" stroke-width="1.1" fill="none"/><polygon points="98.8,667.2 101.0,672.7 96.6,672.7" fill="#231f20"/><polygon points="98.8,976.7 96.6,971.2 101.0,971.2" fill="#231f20"/><path d="M175,666.7 V678.8 M175,709.3 V724.8 " stroke="#231f20" stroke-width="1.1" fill="none"/><polygon points="175.0,667.2 177.2,672.7 172.8,672.7" fill="#231f20"/><polygon points="175.0,724.3 172.8,718.8 177.2,718.8" fill="#231f20"/><path d="M175,725.8 V785.6 M175,820.4 V879.8 " stroke="#231f20" stroke-width="1.1" fill="none"/><polygon points="175.0,726.3 177.2,731.8 172.8,731.8" fill="#231f20"/><polygon points="175.0,879.3 172.8,873.8 177.2,873.8" fill="#231f20"/><path d="M175,880.8 V911.9 M175,946.8 V977.2 " stroke="#231f20" stroke-width="1.1" fill="none"/><polygon points="175.0,881.3 177.2,886.8 172.8,886.8" fill="#231f20"/><polygon points="175.0,976.7 172.8,971.2 177.2,971.2" fill="#231f20"/><path d="M231.1,852.5 L206,991 M313.6,858.8 L345.5,993" stroke="#231f20" stroke-width="1.2" fill="none"/><path d="M208.5,988.8 Q232,992.5 255,993 M285,993 Q315,992.5 343.5,989.2" stroke="#231f20" stroke-width="1.2" fill="none"/><polygon points="207.5,988.6 213.8,987.2 213.1,991.8" fill="#231f20"/><polygon points="344.5,989.0 338.9,992.2 338.2,987.6" fill="#231f20"/><path d="M309,653.8 L275.5,702.5" stroke="#231f20" stroke-width="1.1"/><polygon points="272.6,708.0 274.3,699.5 279.9,703.3" fill="#fff" stroke="#231f20" stroke-width="1"/><path d="M349.8,901.8 L280,871.8" stroke="#231f20" stroke-width="1.1"/><polygon points="276.3,870.2 285.0,870.2 282.3,876.5" fill="#fff" stroke="#231f20" stroke-width="1"/><path d="M327,679 Q304,700 300.6,717.9" stroke="#00aeef" stroke-width="1.9" fill="none"/><polygon points="295.9,742.5 294.0,713.6 300.0,720.9 308.3,716.4" fill="#00aeef"/><path d="M337.3,719.2 Q314,738 309.9,758.2" stroke="#00aeef" stroke-width="1.9" fill="none"/><polygon points="305,782.7 303.4,753.8 309.3,761.1 317.7,756.7" fill="#00aeef"/><path d="M346.4,765.9 Q326,784 323.2,797.2" stroke="#00aeef" stroke-width="1.9" fill="none"/><polygon points="317.9,821.6 316.7,792.7 322.5,800.1 330.9,795.8" fill="#00aeef"/><path d="M352.9,813.8 Q333,832 330.3,842.4" stroke="#00aeef" stroke-width="1.9" fill="none"/><polygon points="324.1,866.6 324.0,837.7 329.6,845.3 338.1,841.3" fill="#00aeef"/>
</svg>
<div class="t" style="left:91.80px;top:86.53px;font:13px 'Liberation Sans';color:#333;letter-spacing:0.100px;word-spacing:0.298px"><b style="letter-spacing:-0.3px">Figure 18-9</b> illustrates the spray patterns of the various</div>
<div class="t" style="left:62.30px;top:103.11px;font:13px 'Liberation Sans';color:#333;letter-spacing:-0.228px;word-spacing:-1.200px">nozzle types discussed thus far. To the naked eye, the spray cone</div>
<div class="t" style="left:62.30px;top:119.69px;font:13px 'Liberation Sans';color:#333;letter-spacing:0.100px;word-spacing:-0.379px">generated appears to be solid, but as shown in <b style="letter-spacing:-0.3px">Figure 18-10,</b></div>
<div class="t" style="left:62.30px;top:136.27px;font:13px 'Liberation Sans';color:#333;letter-spacing:0.100px;word-spacing:3.439px">the cone actually consists of different regions of air-fuel</div>
<div class="t" style="left:62.30px;top:152.86px;font:13px 'Liberation Sans';color:#333;letter-spacing:0.100px;word-spacing:2.495px">mixtures. Spray cones are precisely calculated by design</div>
<div class="t" style="left:62.30px;top:169.44px;font:13px 'Liberation Sans';color:#333;letter-spacing:0.100px;word-spacing:3.627px">engineers to produce maximum fuel efficiency, complete</div>
<div class="t" style="left:62.30px;top:186.01px;font:13px 'Liberation Sans';color:#333;letter-spacing:0.100px;word-spacing:2.127px">combustion, and minimal emissions. These objectives are</div>
<div class="t" style="left:437.30px;top:56.53px;font:13px 'Liberation Sans';color:#333;letter-spacing:0.100px;word-spacing:4.653px">achieved through the manipulation of nozzle hole size,</div>
<div class="t" style="left:437.30px;top:73.03px;font:13px 'Liberation Sans';color:#333;letter-spacing:0.100px;word-spacing:0.063px">nozzle hole length, spray angle, and injection pressure.</div>
<div class="t" style="left:466.80px;top:184.13px;font:13px 'Liberation Sans';color:#333;letter-spacing:0.100px;word-spacing:6.832px">When servicing injectors and nozzles, it is very</div>
<div class="t" style="left:437.30px;top:200.81px;font:13px 'Liberation Sans';color:#333;letter-spacing:0.100px;word-spacing:4.853px">important to follow the test specifications listed by the</div>
<div class="t" style="left:437.30px;top:217.48px;font:13px 'Liberation Sans';color:#333;letter-spacing:0.100px;word-spacing:1.903px">injector manufacturer. For example, if the injector opening</div>
<div class="t" style="left:437.30px;top:234.15px;font:13px 'Liberation Sans';color:#333;letter-spacing:0.100px;word-spacing:1.948px">pressure were mistakenly increased due to poor servicing</div>
<div class="t" style="left:437.30px;top:250.82px;font:13px 'Liberation Sans';color:#333;letter-spacing:0.100px;word-spacing:4.414px">or adjustment, the start of the injector spray would be</div>
<div class="t" style="left:437.30px;top:267.49px;font:13px 'Liberation Sans';color:#333;letter-spacing:0.100px;word-spacing:0.584px">delayed and fuel spray velocity would increase. As a result,</div>
<div class="t" style="left:437.30px;top:284.16px;font:13px 'Liberation Sans';color:#333;letter-spacing:0.100px;word-spacing:1.204px">the length of the spray cone would increase and the spray</div>
<div class="t" style="left:437.30px;top:300.83px;font:13px 'Liberation Sans';color:#333;letter-spacing:0.100px;word-spacing:3.106px">angle would decrease. Fuel droplet size would decrease</div>
<div class="t" style="left:437.30px;top:317.50px;font:13px 'Liberation Sans';color:#333;letter-spacing:0.100px;word-spacing:5.800px">and the fuel penetration distance into the combustion</div>
<div class="t" style="left:437.30px;top:334.17px;font:13px 'Liberation Sans';color:#333;letter-spacing:0.100px;word-spacing:2.644px">chamber would increase. Fuel would now spray to areas</div>
<div class="t" style="left:437.30px;top:350.84px;font:13px 'Liberation Sans';color:#333;letter-spacing:0.100px;word-spacing:1.843px">in the chamber out of reach of the air stream. This would</div>
<div class="t" style="left:437.30px;top:367.50px;font:13px 'Liberation Sans';color:#333;letter-spacing:0.100px;word-spacing:1.059px">cause an increase in the delay time, and the engine would</div>
<div class="t" style="left:437.30px;top:384.18px;font:13px 'Liberation Sans';color:#333;letter-spacing:0.100px;word-spacing:3.431px">operate with increased emissions, a loss of power, high</div>
<div class="t" style="left:437.30px;top:400.85px;font:13px 'Liberation Sans';color:#333;letter-spacing:0.100px;word-spacing:2.333px">fuel consumption, and noticeable fuel knock.</div>
<div class="t" style="left:466.80px;top:417.52px;font:13px 'Liberation Sans';color:#333;letter-spacing:0.100px;word-spacing:2.287px">Injection nozzles are precision units that will operate</div>
<div class="t" style="left:437.30px;top:434.19px;font:13px 'Liberation Sans';color:#333;letter-spacing:0.100px;word-spacing:4.003px">for very long periods if given proper maintenance. This</div>
<div class="t" style="left:437.30px;top:450.86px;font:13px 'Liberation Sans';color:#333;letter-spacing:0.100px;word-spacing:2.825px">involves changing all fuel filters at required intervals and</div>
<div class="t" style="left:437.30px;top:467.53px;font:13px 'Liberation Sans';color:#333;letter-spacing:0.100px;word-spacing:1.912px">using clean, quality diesel fuel. General maintenance also</div>
<div class="t" style="left:437.30px;top:484.20px;font:13px 'Liberation Sans';color:#333;letter-spacing:0.100px;word-spacing:2.678px">includes a complete cleaning and inspection at manufac-</div>
<div class="t" style="left:437.30px;top:500.87px;font:13px 'Liberation Sans';color:#333;letter-spacing:0.100px;word-spacing:4.543px">turer recommended intervals—usually every 1000 hours</div>
<div class="t" style="left:437.30px;top:517.54px;font:13px 'Liberation Sans';color:#333;letter-spacing:0.100px;word-spacing:2.122px">of operation.</div>
<div class="t" style="left:466.80px;top:589.53px;font:13px 'Liberation Sans';color:#333;letter-spacing:0.100px;word-spacing:2.841px">Several factors can reduce the service life of diesel</div>
<div class="t" style="left:437.30px;top:606.21px;font:13px 'Liberation Sans';color:#333;letter-spacing:0.100px;word-spacing:2.623px">fuel injectors. <b style="letter-spacing:-0.15px"><i>Abrasives</i></b> (dirt) in the fuel can wear down</div>
<div class="t" style="left:437.30px;top:622.89px;font:13px 'Liberation Sans';color:#333;letter-spacing:0.100px;word-spacing:4.572px">fuel-carrying components, enlarge the tolerances of the</div>
<div class="t" style="left:437.30px;top:639.57px;font:13px 'Liberation Sans';color:#333;letter-spacing:0.100px;word-spacing:0.371px">needle valve and bore, damage the valve seat, and enlarge</div>
<div class="t" style="left:437.30px;top:656.25px;font:13px 'Liberation Sans';color:#333;letter-spacing:0.100px;word-spacing:0.964px">the spray openings. Excessive heat will change the expan-</div>
<div class="t" style="left:437.30px;top:672.93px;font:13px 'Liberation Sans';color:#333;letter-spacing:0.100px;word-spacing:1.838px">sion rate of the nozzle and accelerate wear. This acceler-</div>
<div class="t" style="left:437.30px;top:689.62px;font:13px 'Liberation Sans';color:#333;letter-spacing:0.100px;word-spacing:1.814px">ated wear causes higher leak-by and reduces the amount</div>
<div class="t" style="left:437.30px;top:706.29px;font:13px 'Liberation Sans';color:#333;letter-spacing:0.100px;word-spacing:2.487px">of fuel available for injection.</div>
<div class="t" style="left:466.80px;top:722.98px;font:13px 'Liberation Sans';color:#333;letter-spacing:0.100px;word-spacing:2.256px">Water in the fuel will cause corrosion and can dilute</div>
<div class="t" style="left:437.30px;top:739.65px;font:13px 'Liberation Sans';color:#333;letter-spacing:0.100px;word-spacing:3.885px">the lubricating oil. Water will also not pass through the</div>
<div class="t" style="left:437.30px;top:756.33px;font:13px 'Liberation Sans';color:#333;letter-spacing:0.100px;word-spacing:3.829px">spray holes on multi-hole nozzles, and may damage or</div>
<div class="t" style="left:437.30px;top:773.01px;font:13px 'Liberation Sans';color:#333;letter-spacing:0.100px;word-spacing:1.553px">break off the nozzle tip.</div>
<div class="t" style="left:466.80px;top:789.69px;font:13px 'Liberation Sans';color:#333;letter-spacing:0.100px;word-spacing:2.326px">If the <b style="letter-spacing:-0.15px"><i>sulfur</i></b> content of the fuel is too high, deposits</div>
<div class="t" style="left:437.30px;top:806.38px;font:13px 'Liberation Sans';color:#333;letter-spacing:0.100px;word-spacing:4.617px">may form that block passages and affect performance.</div>
<div class="t" style="left:437.30px;top:823.05px;font:13px 'Liberation Sans';color:#333;letter-spacing:0.100px;word-spacing:3.167px">Sulfur is also corrosive. Finally, improper installation can</div>
<div class="t" style="left:437.30px;top:839.74px;font:13px 'Liberation Sans';color:#333;letter-spacing:0.100px;word-spacing:3.034px">result in insufficient cooling, seizure of the needle valve,</div>
<div class="t" style="left:437.30px;top:856.41px;font:13px 'Liberation Sans';color:#333;letter-spacing:0.100px;word-spacing:0.733px">or poor valve seating.</div>
<div class="t" style="left:466.80px;top:917.44px;font:13px 'Liberation Sans';color:#333;letter-spacing:0.100px;word-spacing:1.702px">When servicing a fuel injection system, always follow</div>
<div class="t" style="left:437.30px;top:934.14px;font:13px 'Liberation Sans';color:#333;letter-spacing:0.100px;word-spacing:5.178px">a logical step-by-step method. Always perform the fol-</div>
<div class="t" style="left:437.30px;top:950.84px;font:13px 'Liberation Sans';color:#333;letter-spacing:0.100px;word-spacing:1.675px">lowing checks and service before turning your attention to</div>
<div class="t" style="left:437.30px;top:967.54px;font:13px 'Liberation Sans';color:#333;letter-spacing:0.100px;word-spacing:2.091px">the injectors.</div>
<div class="t" style="left:487.70px;top:985.53px;font:13px 'Liberation Sans';color:#333;letter-spacing:0.100px;word-spacing:1.998px">Operate the engine to check overall condition.</div>
<div class="t" style="left:487.70px;top:1003.94px;font:13px 'Liberation Sans';color:#333;letter-spacing:0.100px;word-spacing:1.084px">Check for fuel supply up to the fuel filter(s).</div>
<div class="t" style="left:63.00px;top:57.97px;font:bold 17.6px 'Liberation Sans';color:#1d1a1b;letter-spacing:-0.228px;word-spacing:0.000px">Spray Patterns</div>
<div class="t" style="left:438.50px;top:115.72px;font:bold 21.3px 'Liberation Sans';color:#1d1a1b;letter-spacing:-0.453px;word-spacing:0.000px">Servicing Fuel Injector</div>
<div class="t" style="left:438.50px;top:140.72px;font:bold 21.3px 'Liberation Sans';color:#1d1a1b;letter-spacing:-0.299px;word-spacing:0.000px">Holders and Nozzles</div>
<div class="t" style="left:437.80px;top:560.31px;font:bold 18px 'Liberation Sans';color:#1d1a1b;letter-spacing:-0.042px;word-spacing:0.000px">Factors That Can Reduce Injector Life</div>
<div class="t" style="left:437.80px;top:893.92px;font:bold 15px 'Liberation Sans';color:#1d1a1b;letter-spacing:0.087px;word-spacing:0.000px">Procedures for Injection System Service</div>
<div class="t" style="left:63.00px;top:23.84px;font:11px 'Liberation Sans';color:#333;letter-spacing:0.300px;word-spacing:0.000px">374</div>
<div class="t" style="left:656.00px;top:23.84px;font:11px 'Liberation Sans';color:#333;letter-spacing:0.171px;word-spacing:0.000px">Diesel Engine Technology</div>
<div class="t" style="left:625.70px;top:1050.31px;font:9.6px 'Liberation Sans';color:#6d6e71;letter-spacing:0.013px;word-spacing:0.000px">Copyright Goodheart-Willcox Co., Inc.</div>
<div class="t" style="left:63.00px;top:591.84px;font:12px 'Liberation Sans';color:#333;letter-spacing:0.029px;word-spacing:0.000px"><b><i>Figure 18-9.</i></b> Spray patterns produced by various nozzle designs.</div>
<div class="t" style="left:63.00px;top:1018.24px;font:12px 'Liberation Sans';color:#333;letter-spacing:0.234px;word-spacing:0.000px"><b><i>Figure 18-10.</i></b> Parts of a typical fuel injection spray cone.</div>
<div class="t" style="left:69.60px;top:362.74px;font:12px 'Liberation Sans';color:#333;letter-spacing:0.150px;word-spacing:0.000px">Multi-hole nozzle</div>
<div class="t" style="left:213.00px;top:363.34px;font:12px 'Liberation Sans';color:#333;letter-spacing:0.089px;word-spacing:0.000px">Pintle nozzle</div>
<div class="t" style="left:208.20px;top:377.34px;font:12px 'Liberation Sans';color:#333;letter-spacing:0.089px;word-spacing:0.000px">(conical pintle)</div>
<div class="t" style="left:328.90px;top:363.34px;font:12px 'Liberation Sans';color:#333;letter-spacing:0.089px;word-spacing:0.000px">Pintle nozzle</div>
<div class="t" style="left:316.00px;top:377.34px;font:12px 'Liberation Sans';color:#333;letter-spacing:0.115px;word-spacing:0.000px">(cylindrical pintle)</div>
<div class="t" style="left:79.90px;top:539.94px;font:12px 'Liberation Sans';color:#333;letter-spacing:0.208px;word-spacing:0.000px">Delay nozzle</div>
<div class="t" style="left:80.05px;top:554.84px;font:12px 'Liberation Sans';color:#333;letter-spacing:0.168px;word-spacing:0.000px">Slightly open</div>
<div class="t" style="left:79.90px;top:568.94px;font:12px 'Liberation Sans';color:#333;letter-spacing:0.131px;word-spacing:0.000px">(pintle spray)</div>
<div class="t" style="left:211.10px;top:539.94px;font:12px 'Liberation Sans';color:#333;letter-spacing:0.208px;word-spacing:0.000px">Delay nozzle</div>
<div class="t" style="left:218.95px;top:554.84px;font:12px 'Liberation Sans';color:#333;letter-spacing:0.013px;word-spacing:0.000px">Fully open</div>
<div class="t" style="left:212.30px;top:568.94px;font:12px 'Liberation Sans';color:#333;letter-spacing:0.176px;word-spacing:0.000px">(main spray)</div>
<div class="t" style="left:301.60px;top:515.84px;font:12px 'Liberation Sans';color:#333;letter-spacing:0.098px;word-spacing:0.000px">Auxiliary spray hole</div>
<div class="t" style="left:331.40px;top:539.04px;font:12px 'Liberation Sans';color:#333;letter-spacing:-0.027px;word-spacing:0.000px">Pentaux-type</div>
<div class="t" style="left:348.80px;top:553.94px;font:12px 'Liberation Sans';color:#333;letter-spacing:0.152px;word-spacing:0.000px">nozzle</div>
<div class="t" style="left:298.45px;top:637.64px;font:12px 'Liberation Sans';color:#333;letter-spacing:0.094px;word-spacing:0.000px">Hole spray</div>
<div class="t" style="left:312.54px;top:652.14px;font:12px 'Liberation Sans';color:#333;letter-spacing:0.150px;word-spacing:0.000px">angle</div>
<div class="t" style="left:333.50px;top:745.94px;font:12px 'Liberation Sans';color:#333;letter-spacing:0.026px;word-spacing:0.000px">Airflow</div>
<div class="t" style="left:160.46px;top:681.04px;font:12px 'Liberation Sans';color:#333;letter-spacing:0.150px;word-spacing:0.000px">Initial</div>
<div class="t" style="left:157.87px;top:694.54px;font:12px 'Liberation Sans';color:#333;letter-spacing:0.150px;word-spacing:0.000px">region</div>
<div class="t" style="left:87.05px;top:792.14px;font:12px 'Liberation Sans';color:#333;letter-spacing:0.150px;word-spacing:0.000px">Total</div>
<div class="t" style="left:85.05px;top:807.44px;font:12px 'Liberation Sans';color:#333;letter-spacing:0.150px;word-spacing:0.000px">spray</div>
<div class="t" style="left:83.30px;top:822.64px;font:12px 'Liberation Sans';color:#333;letter-spacing:0.150px;word-spacing:0.000px">length</div>
<div class="t" style="left:65.25px;top:837.04px;font:12px 'Liberation Sans';color:#333;letter-spacing:0.127px;word-spacing:0.000px">(penetration)</div>
<div class="t" style="left:154.59px;top:789.94px;font:12px 'Liberation Sans';color:#333;letter-spacing:0.150px;word-spacing:0.000px">Air-fuel</div>
<div class="t" style="left:137.20px;top:804.34px;font:12px 'Liberation Sans';color:#333;letter-spacing:0.202px;word-spacing:0.000px">mixing region</div>
<div class="t" style="left:151.09px;top:914.94px;font:12px 'Liberation Sans';color:#333;letter-spacing:0.150px;word-spacing:0.000px">More air</div>
<div class="t" style="left:150.00px;top:929.34px;font:12px 'Liberation Sans';color:#333;letter-spacing:0.150px;word-spacing:0.000px">than fuel</div>
<div class="t" style="left:352.60px;top:895.04px;font:12px 'Liberation Sans';color:#333;letter-spacing:0.091px;word-spacing:0.000px">Main spray</div>
<div class="t" style="left:363.61px;top:909.34px;font:12px 'Liberation Sans';color:#333;letter-spacing:0.150px;word-spacing:0.000px">stream</div>
<div class="t" style="left:257.22px;top:983.04px;font:12px 'Liberation Sans';color:#333;letter-spacing:0.150px;word-spacing:0.000px">Fuel</div>
<div class="t" style="left:237.35px;top:997.94px;font:12px 'Liberation Sans';color:#333;letter-spacing:0.150px;word-spacing:0.000px">spray angle</div>
</body></html>
